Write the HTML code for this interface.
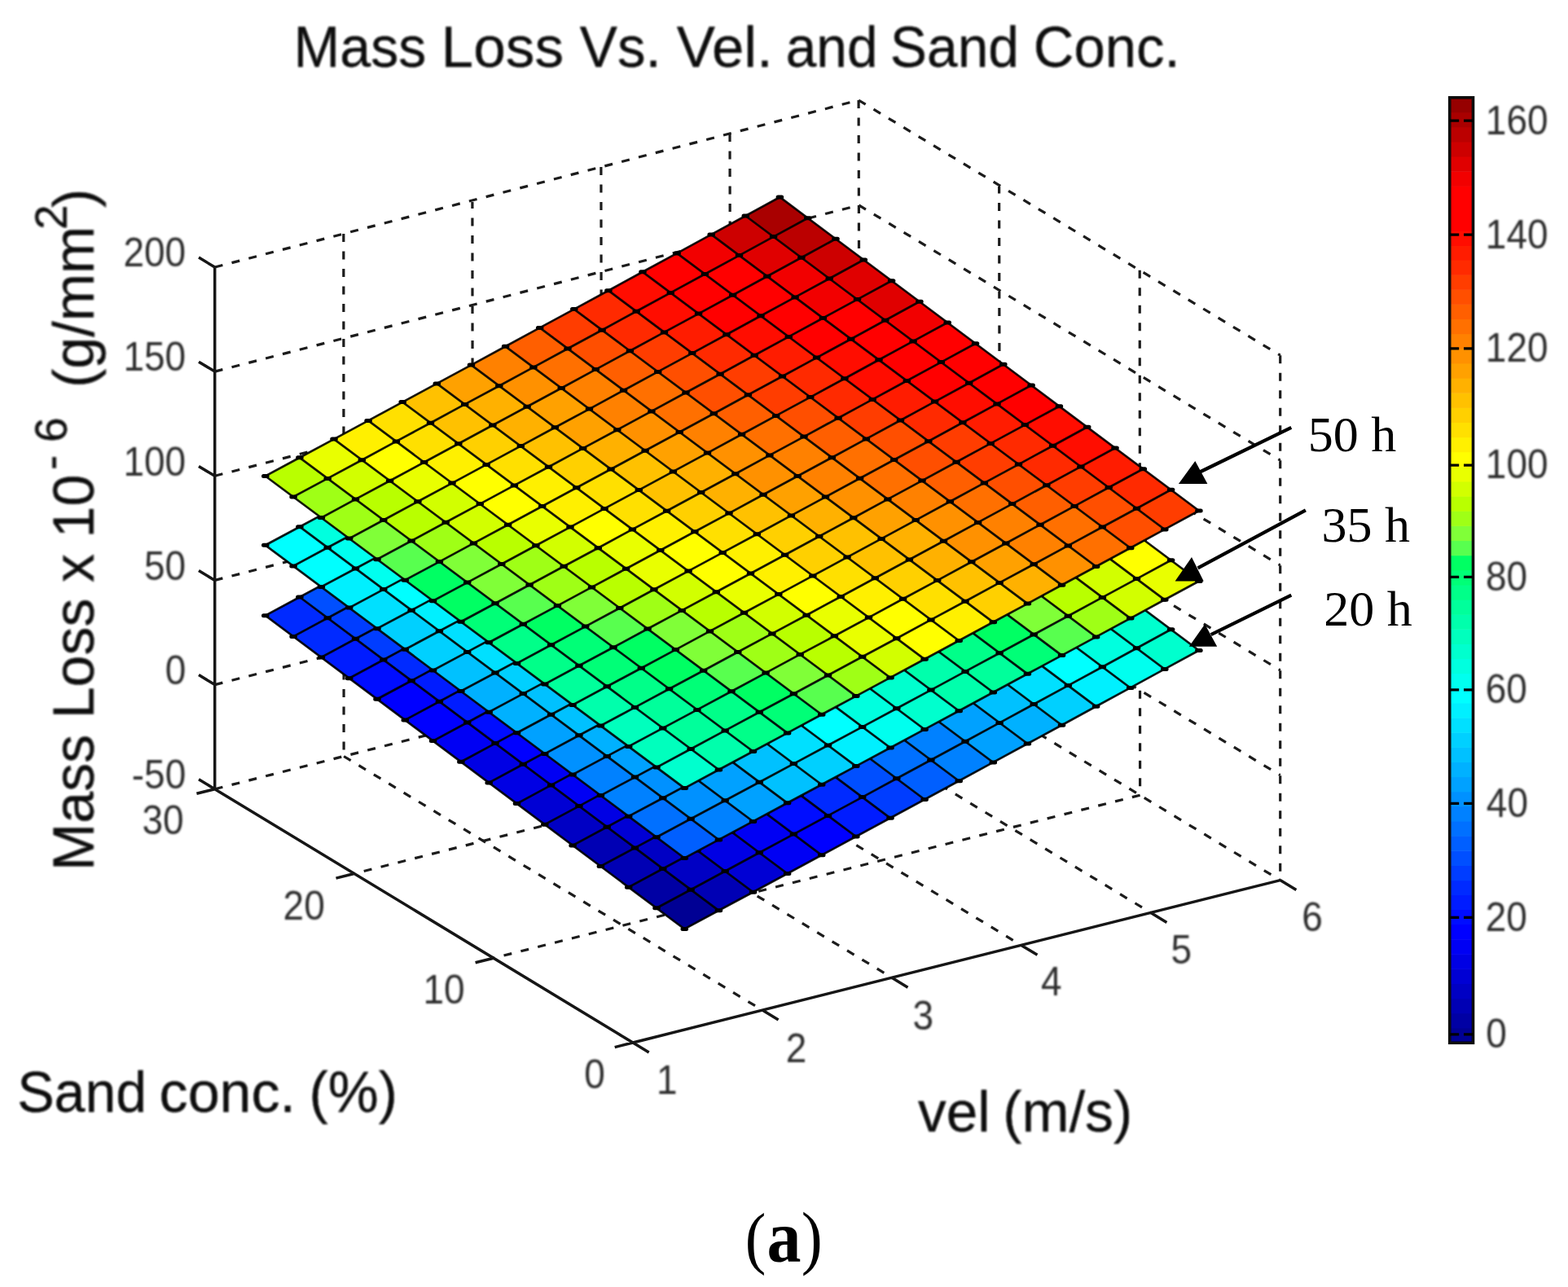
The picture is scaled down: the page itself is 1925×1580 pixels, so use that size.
<!DOCTYPE html>
<html lang="en"><head><meta charset="utf-8"><title>Mass Loss Vs. Vel. and Sand Conc.</title>
<style>html,body{margin:0;padding:0;background:#fff;overflow:hidden}svg{display:block}text{font-family:"Liberation Sans",Arial,Helvetica,sans-serif}.t{font-size:50px;fill:#2e2e2e;stroke:#2e2e2e;stroke-width:0px}.b{font-size:70px;fill:#0c0c0c;stroke:#0c0c0c;stroke-width:0.3px}.u{font-size:55px;fill:#0c0c0c;stroke:#0c0c0c;stroke-width:0.3px}.s{font-family:"Liberation Serif","Times New Roman",serif;fill:#000}</style></head><body>
<svg xmlns="http://www.w3.org/2000/svg" width="1925" height="1580" viewBox="0 0 1925 1580">
<defs><filter id="soft" x="-2%" y="-2%" width="104%" height="104%"><feGaussianBlur stdDeviation="1.0"/></filter><filter id="soft2" x="-2%" y="-2%" width="104%" height="104%"><feGaussianBlur stdDeviation="0.5"/></filter></defs>
<rect width="1925" height="1580" fill="#fff"/>
<g filter="url(#soft2)">
<path fill="none" stroke="#1c1c1c" stroke-width="3.2" stroke-dasharray="10 11.5" d="M263.7,968.7L1055.5,767.5M1055.5,767.5L1571.7,1080.6M263.7,840.6L1055.2,638.6M1055.2,638.6L1571.7,951.7M263.7,712.4L1054.9,509.7M1054.9,509.7L1571.7,822.8M263.7,584.3L1054.7,380.8M1054.7,380.8L1571.7,694M263.7,456.1L1054.4,251.9M1054.4,251.9L1571.7,565.1M263.7,328L1054.1,123M1054.1,123L1571.7,436.2M421.8,287L422.1,928.5M422.1,928.5L935.9,1240.1M579.9,246L580.4,888.2M580.4,888.2L1094.9,1200.2M737.9,205L738.8,848M738.8,848L1253.8,1160.4M896,164L897.1,807.7M897.1,807.7L1412.8,1120.5M1054.1,123L1055.5,767.5M1055.5,767.5L1571.7,1080.6M1399.2,331.8L1399.6,976.2M1399.6,976.2L605.9,1176.2M1226.6,227.4L1227.6,871.9M1227.6,871.9L434.8,1072.5M1571.7,436.2L1571.7,1080.6"/>
<path fill="none" stroke="#161616" stroke-width="3.5" d="M263.7,328L263.7,968.7L777,1280L1571.7,1080.6M263.7,968.7L244,956.8M263.7,840.6L244,828.6M263.7,712.4L244,700.5M263.7,584.3L244,572.4M263.7,456.1L244,444.2M263.7,328L244,316.1M777,1280L754.7,1285.6M605.9,1176.2L583.6,1181.8M434.8,1072.5L412.5,1078.1M263.7,968.7L241.4,974.3M777,1280L796.7,1291.9M935.9,1240.1L955.6,1252M1094.9,1200.2L1114.5,1212.2M1253.8,1160.4L1273.5,1172.3M1412.8,1120.5L1432.4,1132.4M1571.7,1080.6L1591.4,1092.5"/>
<g stroke-linejoin="round">
<path fill="#b9ff00" stroke="#b9ff00" stroke-width=".6" d="M949.6,462.1L991.7,439.2L957.4,413.5L915.3,436.5Z"/>
<path fill="#80ff37" stroke="#80ff37" stroke-width=".6" d="M907.5,485.1L949.6,462.1L915.3,436.5L873.2,459.4ZM1052.5,539.1L1094.6,516.2L1060.3,490.5L1018.2,513.5Z"/>
<path fill="#00ff64" stroke="#00ff64" stroke-width=".6" d="M865.4,508L907.5,485.1L873.2,459.4L831.1,482.3ZM899.7,533.7L941.8,510.7L907.5,485.1L865.4,508ZM1010.4,562.1L1052.5,539.1L1018.2,513.5L976.1,536.4ZM1121.1,590.5L1163.2,567.5L1128.9,541.8L1086.8,564.8ZM1155.4,616.1L1197.5,593.2L1163.2,567.5L1121.1,590.5Z"/>
<path fill="#00ff89" stroke="#00ff89" stroke-width=".6" d="M823.3,530.9L865.4,508L831.1,482.3L789,505.2ZM857.6,556.5L899.7,533.7L865.4,508L823.3,530.9ZM968.3,585L1010.4,562.1L976.1,536.4L934,559.3ZM1079,613.4L1121.1,590.5L1086.8,564.8L1044.7,587.7ZM1113.3,639.1L1155.4,616.1L1121.1,590.5L1079,613.4ZM1224,667.5L1266.1,644.5L1231.8,618.8L1189.7,641.8Z"/>
<path fill="#00ff9b" stroke="#00ff9b" stroke-width=".6" d="M781.2,553.8L823.3,530.9L789,505.2L746.9,528.1ZM891.9,582.2L934,559.3L899.7,533.7L857.6,556.5ZM1002.6,610.6L1044.7,587.7L1010.4,562.1L968.3,585ZM1036.9,636.3L1079,613.4L1044.7,587.7L1002.6,610.6ZM1147.6,664.7L1189.7,641.8L1155.4,616.1L1113.3,639.1ZM1258.3,693.1L1300.4,670.2L1266.1,644.5L1224,667.5ZM1292.6,718.8L1334.7,695.8L1300.4,670.2L1258.3,693.1Z"/>
<path fill="#00ffbd" stroke="#00ffbd" stroke-width=".6" d="M739.1,576.6L781.2,553.8L746.9,528.1L704.8,551ZM849.8,605.1L891.9,582.2L857.6,556.5L815.5,579.4ZM994.8,659.2L1036.9,636.3L1002.6,610.6L960.5,633.5ZM1105.5,687.6L1147.6,664.7L1113.3,639.1L1071.2,662ZM1250.5,741.7L1292.6,718.8L1258.3,693.1L1216.2,716.1ZM1361.2,770.1L1403.3,747.2L1369,721.5L1326.9,744.5Z"/>
<path fill="#00ffdf" stroke="#00ffdf" stroke-width=".6" d="M697,599.5L739.1,576.6L704.8,551L662.7,573.8ZM807.7,627.9L849.8,605.1L815.5,579.4L773.4,602.3ZM842,653.6L884.1,630.7L849.8,605.1L807.7,627.9ZM952.7,682.1L994.8,659.2L960.5,633.5L918.4,656.4ZM1063.4,710.5L1105.5,687.6L1071.2,662L1029.1,684.9ZM1097.7,736.2L1139.8,713.3L1105.5,687.6L1063.4,710.5ZM1208.4,764.6L1250.5,741.7L1216.2,716.1L1174.1,739ZM1319.1,793L1361.2,770.1L1326.9,744.5L1284.8,767.4ZM1353.4,818.7L1395.5,795.8L1361.2,770.1L1319.1,793Z"/>
<path fill="#0ff" stroke="#0ff" stroke-width=".6" d="M654.9,622.3L697,599.5L662.7,573.8L620.6,596.6ZM765.6,650.8L807.7,627.9L773.4,602.3L731.3,625.1ZM799.9,676.4L842,653.6L807.7,627.9L765.6,650.8ZM910.6,704.9L952.7,682.1L918.4,656.4L876.3,679.3ZM1055.6,759.1L1097.7,736.2L1063.4,710.5L1021.3,733.4ZM1166.3,787.5L1208.4,764.6L1174.1,739L1132,761.9ZM1311.3,841.6L1353.4,818.7L1319.1,793L1277,816Z"/>
<path fill="#00e0ff" stroke="#00e0ff" stroke-width=".6" d="M612.8,645.1L654.9,622.3L620.6,596.6L578.5,619.4ZM647.1,670.7L689.2,647.9L654.9,622.3L612.8,645.1ZM757.8,699.2L799.9,676.4L765.6,650.8L723.5,673.6ZM868.5,727.8L910.6,704.9L876.3,679.3L834.2,702.1ZM902.8,753.4L944.9,730.6L910.6,704.9L868.5,727.8ZM1013.5,781.9L1055.6,759.1L1021.3,733.4L979.2,756.2ZM1124.2,810.4L1166.3,787.5L1132,761.9L1089.9,784.7ZM1158.5,836L1200.6,813.2L1166.3,787.5L1124.2,810.4ZM1269.2,864.5L1311.3,841.6L1277,816L1234.9,838.8Z"/>
<path fill="#00c1ff" stroke="#00c1ff" stroke-width=".6" d="M570.6,667.8L612.8,645.1L578.5,619.4L536.3,642.2ZM604.9,693.5L647.1,670.7L612.8,645.1L570.6,667.8ZM715.7,722L757.8,699.2L723.5,673.6L681.4,696.4ZM826.4,750.6L868.5,727.8L834.2,702.1L792.1,724.9ZM860.7,776.2L902.8,753.4L868.5,727.8L826.4,750.6ZM971.4,804.7L1013.5,781.9L979.2,756.2L937.1,779.1ZM1082.1,833.2L1124.2,810.4L1089.9,784.7L1047.8,807.6ZM1116.4,858.9L1158.5,836L1124.2,810.4L1082.1,833.2ZM1227.1,887.4L1269.2,864.5L1234.9,838.8L1192.8,861.7Z"/>
<path fill="#00b1ff" stroke="#00b1ff" stroke-width=".6" d="M528.5,690.6L570.6,667.8L536.3,642.2L494.2,664.9ZM639.2,719.1L681.4,696.4L647.1,670.7L604.9,693.5ZM750,747.7L792.1,724.9L757.8,699.2L715.7,722ZM784.3,773.3L826.4,750.6L792.1,724.9L750,747.7ZM895,801.9L937.1,779.1L902.8,753.4L860.7,776.2ZM1005.7,830.4L1047.8,807.6L1013.5,781.9L971.4,804.7ZM1040,856.1L1082.1,833.2L1047.8,807.6L1005.7,830.4ZM1150.7,884.6L1192.8,861.7L1158.5,836L1116.4,858.9ZM1261.4,913L1303.5,890.2L1269.2,864.5L1227.1,887.4Z"/>
<path fill="#0091ff" stroke="#0091ff" stroke-width=".6" d="M486.4,713.3L528.5,690.6L494.2,664.9L452.1,687.6ZM597.1,741.9L639.2,719.1L604.9,693.5L562.8,716.2ZM742.1,796.1L784.3,773.3L750,747.7L707.8,770.5ZM852.9,824.7L895,801.9L860.7,776.2L818.6,799ZM997.9,878.9L1040,856.1L1005.7,830.4L963.6,853.2ZM1108.6,907.4L1150.7,884.6L1116.4,858.9L1074.3,881.7Z"/>
<path fill="#0070ff" stroke="#0070ff" stroke-width=".6" d="M444.3,736L486.4,713.3L452.1,687.6L410,710.4ZM555,764.6L597.1,741.9L562.8,716.2L520.7,739ZM589.3,790.3L631.4,767.5L597.1,741.9L555,764.6ZM700,818.9L742.1,796.1L707.8,770.5L665.7,793.2ZM810.8,847.4L852.9,824.7L818.6,799L776.4,821.8ZM845,873.1L887.2,850.3L852.9,824.7L810.8,847.4ZM955.8,901.6L997.9,878.9L963.6,853.2L921.5,876ZM1066.5,930.2L1108.6,907.4L1074.3,881.7L1032.2,904.5ZM1100.8,955.8L1142.9,933L1108.6,907.4L1066.5,930.2Z"/>
<path fill="#004fff" stroke="#004fff" stroke-width=".6" d="M402.2,758.7L444.3,736L410,710.4L367.9,733ZM547.2,813L589.3,790.3L555,764.6L512.9,787.3ZM657.9,841.6L700,818.9L665.7,793.2L623.6,815.9ZM802.9,895.8L845,873.1L810.8,847.4L768.6,870.2ZM913.6,924.4L955.8,901.6L921.5,876L879.3,898.7ZM1058.7,978.6L1100.8,955.8L1066.5,930.2L1024.4,953Z"/>
<path fill="#002cff" stroke="#002cff" stroke-width=".6" d="M360.1,781.4L402.2,758.7L367.9,733L325.8,755.7ZM394.4,807L436.5,784.3L402.2,758.7L360.1,781.4ZM505.1,835.7L547.2,813L512.9,787.3L470.8,810ZM615.8,864.3L657.9,841.6L623.6,815.9L581.5,838.6ZM650.1,889.9L692.2,867.2L657.9,841.6L615.8,864.3ZM760.8,918.5L802.9,895.8L768.6,870.2L726.5,892.9ZM871.5,947.1L913.6,924.4L879.3,898.7L837.2,921.5ZM905.8,972.8L947.9,950.1L913.6,924.4L871.5,947.1ZM1016.5,1001.4L1058.7,978.6L1024.4,953L982.2,975.7Z"/>
<path fill="#9fff13" stroke="#9fff13" stroke-width=".6" d="M983.9,487.8L1026,464.8L991.7,439.2L949.6,462.1ZM1018.2,513.5L1060.3,490.5L1026,464.8L983.9,487.8Z"/>
<path fill="#59ff4f" stroke="#59ff4f" stroke-width=".6" d="M941.8,510.7L983.9,487.8L949.6,462.1L907.5,485.1ZM976.1,536.4L1018.2,513.5L983.9,487.8L941.8,510.7ZM1086.8,564.8L1128.9,541.8L1094.6,516.2L1052.5,539.1Z"/>
<path fill="#00ffac" stroke="#00ffac" stroke-width=".6" d="M815.5,579.4L857.6,556.5L823.3,530.9L781.2,553.8ZM926.2,607.9L968.3,585L934,559.3L891.9,582.2ZM960.5,633.5L1002.6,610.6L968.3,585L926.2,607.9ZM1071.2,662L1113.3,639.1L1079,613.4L1036.9,636.3ZM1181.9,690.4L1224,667.5L1189.7,641.8L1147.6,664.7ZM1216.2,716.1L1258.3,693.1L1224,667.5L1181.9,690.4ZM1326.9,744.5L1369,721.5L1334.7,695.8L1292.6,718.8Z"/>
<path fill="#00ffce" stroke="#00ffce" stroke-width=".6" d="M773.4,602.3L815.5,579.4L781.2,553.8L739.1,576.6ZM884.1,630.7L926.2,607.9L891.9,582.2L849.8,605.1ZM918.4,656.4L960.5,633.5L926.2,607.9L884.1,630.7ZM1029.1,684.9L1071.2,662L1036.9,636.3L994.8,659.2ZM1139.8,713.3L1181.9,690.4L1147.6,664.7L1105.5,687.6ZM1174.1,739L1216.2,716.1L1181.9,690.4L1139.8,713.3ZM1284.8,767.4L1326.9,744.5L1292.6,718.8L1250.5,741.7ZM1395.5,795.8L1437.6,772.8L1403.3,747.2L1361.2,770.1ZM1429.8,821.4L1471.9,798.5L1437.6,772.8L1395.5,795.8Z"/>
<path fill="#00ffef" stroke="#00ffef" stroke-width=".6" d="M731.3,625.1L773.4,602.3L739.1,576.6L697,599.5ZM876.3,679.3L918.4,656.4L884.1,630.7L842,653.6ZM987,707.7L1029.1,684.9L994.8,659.2L952.7,682.1ZM1021.3,733.4L1063.4,710.5L1029.1,684.9L987,707.7ZM1132,761.9L1174.1,739L1139.8,713.3L1097.7,736.2ZM1242.7,790.3L1284.8,767.4L1250.5,741.7L1208.4,764.6ZM1277,816L1319.1,793L1284.8,767.4L1242.7,790.3ZM1387.7,844.4L1429.8,821.4L1395.5,795.8L1353.4,818.7Z"/>
<path fill="#00f0ff" stroke="#00f0ff" stroke-width=".6" d="M689.2,647.9L731.3,625.1L697,599.5L654.9,622.3ZM723.5,673.6L765.6,650.8L731.3,625.1L689.2,647.9ZM834.2,702.1L876.3,679.3L842,653.6L799.9,676.4ZM944.9,730.6L987,707.7L952.7,682.1L910.6,704.9ZM979.2,756.2L1021.3,733.4L987,707.7L944.9,730.6ZM1089.9,784.7L1132,761.9L1097.7,736.2L1055.6,759.1ZM1200.6,813.2L1242.7,790.3L1208.4,764.6L1166.3,787.5ZM1234.9,838.8L1277,816L1242.7,790.3L1200.6,813.2ZM1345.6,867.3L1387.7,844.4L1353.4,818.7L1311.3,841.6Z"/>
<path fill="#00a1ff" stroke="#00a1ff" stroke-width=".6" d="M562.8,716.2L604.9,693.5L570.6,667.8L528.5,690.6ZM673.5,744.8L715.7,722L681.4,696.4L639.2,719.1ZM707.8,770.5L750,747.7L715.7,722L673.5,744.8ZM818.6,799L860.7,776.2L826.4,750.6L784.3,773.3ZM929.3,827.5L971.4,804.7L937.1,779.1L895,801.9ZM963.6,853.2L1005.7,830.4L971.4,804.7L929.3,827.5ZM1074.3,881.7L1116.4,858.9L1082.1,833.2L1040,856.1ZM1185,910.2L1227.1,887.4L1192.8,861.7L1150.7,884.6ZM1219.3,935.9L1261.4,913L1227.1,887.4L1185,910.2Z"/>
<path fill="#0081ff" stroke="#0081ff" stroke-width=".6" d="M520.7,739L562.8,716.2L528.5,690.6L486.4,713.3ZM631.4,767.5L673.5,744.8L639.2,719.1L597.1,741.9ZM665.7,793.2L707.8,770.5L673.5,744.8L631.4,767.5ZM776.4,821.8L818.6,799L784.3,773.3L742.1,796.1ZM887.2,850.3L929.3,827.5L895,801.9L852.9,824.7ZM921.5,876L963.6,853.2L929.3,827.5L887.2,850.3ZM1032.2,904.5L1074.3,881.7L1040,856.1L997.9,878.9ZM1142.9,933L1185,910.2L1150.7,884.6L1108.6,907.4ZM1177.2,958.7L1219.3,935.9L1185,910.2L1142.9,933Z"/>
<path fill="#005fff" stroke="#005fff" stroke-width=".6" d="M478.6,761.7L520.7,739L486.4,713.3L444.3,736ZM512.9,787.3L555,764.6L520.7,739L478.6,761.7ZM623.6,815.9L665.7,793.2L631.4,767.5L589.3,790.3ZM734.3,844.5L776.4,821.8L742.1,796.1L700,818.9ZM768.6,870.2L810.8,847.4L776.4,821.8L734.3,844.5ZM879.3,898.7L921.5,876L887.2,850.3L845,873.1ZM990.1,927.3L1032.2,904.5L997.9,878.9L955.8,901.6ZM1024.4,953L1066.5,930.2L1032.2,904.5L990.1,927.3ZM1135.1,981.5L1177.2,958.7L1142.9,933L1100.8,955.8Z"/>
<path fill="#003eff" stroke="#003eff" stroke-width=".6" d="M436.5,784.3L478.6,761.7L444.3,736L402.2,758.7ZM470.8,810L512.9,787.3L478.6,761.7L436.5,784.3ZM581.5,838.6L623.6,815.9L589.3,790.3L547.2,813ZM692.2,867.2L734.3,844.5L700,818.9L657.9,841.6ZM726.5,892.9L768.6,870.2L734.3,844.5L692.2,867.2ZM837.2,921.5L879.3,898.7L845,873.1L802.9,895.8ZM947.9,950.1L990.1,927.3L955.8,901.6L913.6,924.4ZM982.2,975.7L1024.4,953L990.1,927.3L947.9,950.1ZM1093,1004.3L1135.1,981.5L1100.8,955.8L1058.7,978.6Z"/>
<path fill="#0f7" stroke="#0f7" stroke-width=".6" d="M934,559.3L976.1,536.4L941.8,510.7L899.7,533.7ZM1044.7,587.7L1086.8,564.8L1052.5,539.1L1010.4,562.1ZM1189.7,641.8L1231.8,618.8L1197.5,593.2L1155.4,616.1Z"/>
<path fill="#00d0ff" stroke="#00d0ff" stroke-width=".6" d="M681.4,696.4L723.5,673.6L689.2,647.9L647.1,670.7ZM792.1,724.9L834.2,702.1L799.9,676.4L757.8,699.2ZM937.1,779.1L979.2,756.2L944.9,730.6L902.8,753.4ZM1047.8,807.6L1089.9,784.7L1055.6,759.1L1013.5,781.9ZM1192.8,861.7L1234.9,838.8L1200.6,813.2L1158.5,836ZM1303.5,890.2L1345.6,867.3L1311.3,841.6L1269.2,864.5Z"/>
<path fill="#001aff" stroke="#001aff" stroke-width=".6" d="M428.7,832.7L470.8,810L436.5,784.3L394.4,807ZM539.4,861.3L581.5,838.6L547.2,813L505.1,835.7ZM573.7,887L615.8,864.3L581.5,838.6L539.4,861.3ZM684.4,915.6L726.5,892.9L692.2,867.2L650.1,889.9ZM795.1,944.2L837.2,921.5L802.9,895.8L760.8,918.5ZM829.4,969.9L871.5,947.1L837.2,921.5L795.1,944.2ZM940.1,998.5L982.2,975.7L947.9,950.1L905.8,972.8ZM1050.8,1027L1093,1004.3L1058.7,978.6L1016.5,1001.4Z"/>
<path fill="#0007ff" stroke="#0007ff" stroke-width=".6" d="M463,858.3L505.1,835.7L470.8,810L428.7,832.7ZM608,912.6L650.1,889.9L615.8,864.3L573.7,887ZM718.7,941.2L760.8,918.5L726.5,892.9L684.4,915.6ZM863.7,995.5L905.8,972.8L871.5,947.1L829.4,969.9ZM974.4,1024.1L1016.5,1001.4L982.2,975.7L940.1,998.5Z"/>
<path fill="#00f" stroke="#00f" stroke-width=".6" d="M497.3,884L539.4,861.3L505.1,835.7L463,858.3ZM531.6,909.6L573.7,887L539.4,861.3L497.3,884ZM642.3,938.3L684.4,915.6L650.1,889.9L608,912.6ZM753,966.9L795.1,944.2L760.8,918.5L718.7,941.2ZM787.3,992.6L829.4,969.9L795.1,944.2L753,966.9ZM898,1021.2L940.1,998.5L905.8,972.8L863.7,995.5ZM1008.7,1049.8L1050.8,1027L1016.5,1001.4L974.4,1024.1Z"/>
<path fill="#0000f4" stroke="#0000f4" stroke-width=".6" d="M565.9,935.3L608,912.6L573.7,887L531.6,909.6ZM676.6,963.9L718.7,941.2L684.4,915.6L642.3,938.3ZM710.9,989.6L753,966.9L718.7,941.2L676.6,963.9ZM821.6,1018.2L863.7,995.5L829.4,969.9L787.3,992.6ZM932.3,1046.8L974.4,1024.1L940.1,998.5L898,1021.2ZM966.6,1072.5L1008.7,1049.8L974.4,1024.1L932.3,1046.8Z"/>
<path fill="#0000e4" stroke="#0000e4" stroke-width=".6" d="M600.2,960.9L642.3,938.3L608,912.6L565.9,935.3ZM634.5,986.6L676.6,963.9L642.3,938.3L600.2,960.9ZM745.2,1015.2L787.3,992.6L753,966.9L710.9,989.6ZM855.9,1043.9L898,1021.2L863.7,995.5L821.6,1018.2ZM890.2,1069.5L932.3,1046.8L898,1021.2L855.9,1043.9Z"/>
<path fill="#0000d4" stroke="#0000d4" stroke-width=".6" d="M668.8,1012.2L710.9,989.6L676.6,963.9L634.5,986.6ZM779.5,1040.9L821.6,1018.2L787.3,992.6L745.2,1015.2ZM924.5,1095.2L966.6,1072.5L932.3,1046.8L890.2,1069.5Z"/>
<path fill="#0000c4" stroke="#0000c4" stroke-width=".6" d="M703.1,1037.9L745.2,1015.2L710.9,989.6L668.8,1012.2ZM813.8,1066.5L855.9,1043.9L821.6,1018.2L779.5,1040.9ZM848.1,1092.2L890.2,1069.5L855.9,1043.9L813.8,1066.5Z"/>
<path fill="#0000b4" stroke="#0000b4" stroke-width=".6" d="M737.4,1063.5L779.5,1040.9L745.2,1015.2L703.1,1037.9ZM771.7,1089.2L813.8,1066.5L779.5,1040.9L737.4,1063.5ZM882.4,1117.8L924.5,1095.2L890.2,1069.5L848.1,1092.2Z"/>
<path fill="#0000a4" stroke="#0000a4" stroke-width=".6" d="M806,1114.8L848.1,1092.2L813.8,1066.5L771.7,1089.2Z"/>
<path fill="#000094" stroke="#000094" stroke-width=".6" d="M840.3,1140.5L882.4,1117.8L848.1,1092.2L806,1114.8Z"/>
<path fill="none" stroke="#000" stroke-opacity="0.9" stroke-width="2.7" stroke-linecap="square" d="M840.3,1140.5L882.4,1117.8L924.5,1095.2L966.6,1072.5L1008.7,1049.8L1050.8,1027L1093,1004.3L1135.1,981.5L1177.2,958.7L1219.3,935.9L1261.4,913L1303.5,890.2L1345.6,867.3L1387.7,844.4L1429.8,821.4L1471.9,798.5M806,1114.8L848.1,1092.2L890.2,1069.5L932.3,1046.8L974.4,1024.1L1016.5,1001.4L1058.7,978.6L1100.8,955.8L1142.9,933L1185,910.2L1227.1,887.4L1269.2,864.5L1311.3,841.6L1353.4,818.7L1395.5,795.8L1437.6,772.8M771.7,1089.2L813.8,1066.5L855.9,1043.9L898,1021.2L940.1,998.5L982.2,975.7L1024.4,953L1066.5,930.2L1108.6,907.4L1150.7,884.6L1192.8,861.7L1234.9,838.8L1277,816L1319.1,793L1361.2,770.1L1403.3,747.2M737.4,1063.5L779.5,1040.9L821.6,1018.2L863.7,995.5L905.8,972.8L947.9,950.1L990.1,927.3L1032.2,904.5L1074.3,881.7L1116.4,858.9L1158.5,836L1200.6,813.2L1242.7,790.3L1284.8,767.4L1326.9,744.5L1369,721.5M703.1,1037.9L745.2,1015.2L787.3,992.6L829.4,969.9L871.5,947.1L913.6,924.4L955.8,901.6L997.9,878.9L1040,856.1L1082.1,833.2L1124.2,810.4L1166.3,787.5L1208.4,764.6L1250.5,741.7L1292.6,718.8L1334.7,695.8M668.8,1012.2L710.9,989.6L753,966.9L795.1,944.2L837.2,921.5L879.3,898.7L921.5,876L963.6,853.2L1005.7,830.4L1047.8,807.6L1089.9,784.7L1132,761.9L1174.1,739L1216.2,716.1L1258.3,693.1L1300.4,670.2M634.5,986.6L676.6,963.9L718.7,941.2L760.8,918.5L802.9,895.8L845,873.1L887.2,850.3L929.3,827.5L971.4,804.7L1013.5,781.9L1055.6,759.1L1097.7,736.2L1139.8,713.3L1181.9,690.4L1224,667.5L1266.1,644.5M600.2,960.9L642.3,938.3L684.4,915.6L726.5,892.9L768.6,870.2L810.8,847.4L852.9,824.7L895,801.9L937.1,779.1L979.2,756.2L1021.3,733.4L1063.4,710.5L1105.5,687.6L1147.6,664.7L1189.7,641.8L1231.8,618.8M565.9,935.3L608,912.6L650.1,889.9L692.2,867.2L734.3,844.5L776.4,821.8L818.6,799L860.7,776.2L902.8,753.4L944.9,730.6L987,707.7L1029.1,684.9L1071.2,662L1113.3,639.1L1155.4,616.1L1197.5,593.2M531.6,909.6L573.7,887L615.8,864.3L657.9,841.6L700,818.9L742.1,796.1L784.3,773.3L826.4,750.6L868.5,727.8L910.6,704.9L952.7,682.1L994.8,659.2L1036.9,636.3L1079,613.4L1121.1,590.5L1163.2,567.5M497.3,884L539.4,861.3L581.5,838.6L623.6,815.9L665.7,793.2L707.8,770.5L750,747.7L792.1,724.9L834.2,702.1L876.3,679.3L918.4,656.4L960.5,633.5L1002.6,610.6L1044.7,587.7L1086.8,564.8L1128.9,541.8M463,858.3L505.1,835.7L547.2,813L589.3,790.3L631.4,767.5L673.5,744.8L715.7,722L757.8,699.2L799.9,676.4L842,653.6L884.1,630.7L926.2,607.9L968.3,585L1010.4,562.1L1052.5,539.1L1094.6,516.2M428.7,832.7L470.8,810L512.9,787.3L555,764.6L597.1,741.9L639.2,719.1L681.4,696.4L723.5,673.6L765.6,650.8L807.7,627.9L849.8,605.1L891.9,582.2L934,559.3L976.1,536.4L1018.2,513.5L1060.3,490.5M394.4,807L436.5,784.3L478.6,761.7L520.7,739L562.8,716.2L604.9,693.5L647.1,670.7L689.2,647.9L731.3,625.1L773.4,602.3L815.5,579.4L857.6,556.5L899.7,533.7L941.8,510.7L983.9,487.8L1026,464.8M360.1,781.4L402.2,758.7L444.3,736L486.4,713.3L528.5,690.6L570.6,667.8L612.8,645.1L654.9,622.3L697,599.5L739.1,576.6L781.2,553.8L823.3,530.9L865.4,508L907.5,485.1L949.6,462.1L991.7,439.2M325.8,755.7L367.9,733L410,710.4L452.1,687.6L494.2,664.9L536.3,642.2L578.5,619.4L620.6,596.6L662.7,573.8L704.8,551L746.9,528.1L789,505.2L831.1,482.3L873.2,459.4L915.3,436.5L957.4,413.5M840.3,1140.5L325.8,755.7M882.4,1117.8L367.9,733M924.5,1095.2L410,710.4M966.6,1072.5L452.1,687.6M1008.7,1049.8L494.2,664.9M1050.8,1027L536.3,642.2M1093,1004.3L578.5,619.4M1135.1,981.5L620.6,596.6M1177.2,958.7L662.7,573.8M1219.3,935.9L704.8,551M1261.4,913L746.9,528.1M1303.5,890.2L789,505.2M1345.6,867.3L831.1,482.3M1387.7,844.4L873.2,459.4M1429.8,821.4L915.3,436.5M1471.9,798.5L957.4,413.5"/>
<path fill="none" stroke="#000" stroke-width="5" stroke-linecap="round" d="M838,1140.5h4.6M880.1,1117.8h4.6M922.2,1095.2h4.6M964.3,1072.5h4.6M1006.4,1049.8h4.6M1048.5,1027h4.6M1090.7,1004.3h4.6M1132.8,981.5h4.6M1174.9,958.7h4.6M1217,935.9h4.6M1259.1,913h4.6M1301.2,890.2h4.6M1343.3,867.3h4.6M1385.4,844.4h4.6M1427.5,821.4h4.6M1469.6,798.5h4.6M803.7,1114.8h4.6M845.8,1092.2h4.6M887.9,1069.5h4.6M930,1046.8h4.6M972.1,1024.1h4.6M1014.2,1001.4h4.6M1056.4,978.6h4.6M1098.5,955.8h4.6M1140.6,933h4.6M1182.7,910.2h4.6M1224.8,887.4h4.6M1266.9,864.5h4.6M1309,841.6h4.6M1351.1,818.7h4.6M1393.2,795.8h4.6M1435.3,772.8h4.6M769.4,1089.2h4.6M811.5,1066.5h4.6M853.6,1043.9h4.6M895.7,1021.2h4.6M937.8,998.5h4.6M979.9,975.7h4.6M1022.1,953h4.6M1064.2,930.2h4.6M1106.3,907.4h4.6M1148.4,884.6h4.6M1190.5,861.7h4.6M1232.6,838.8h4.6M1274.7,816h4.6M1316.8,793h4.6M1358.9,770.1h4.6M1401,747.2h4.6M735.1,1063.5h4.6M777.2,1040.9h4.6M819.3,1018.2h4.6M861.4,995.5h4.6M903.5,972.8h4.6M945.6,950.1h4.6M987.8,927.3h4.6M1029.9,904.5h4.6M1072,881.7h4.6M1114.1,858.9h4.6M1156.2,836h4.6M1198.3,813.2h4.6M1240.4,790.3h4.6M1282.5,767.4h4.6M1324.6,744.5h4.6M1366.7,721.5h4.6M700.8,1037.9h4.6M742.9,1015.2h4.6M785,992.6h4.6M827.1,969.9h4.6M869.2,947.1h4.6M911.3,924.4h4.6M953.5,901.6h4.6M995.6,878.9h4.6M1037.7,856.1h4.6M1079.8,833.2h4.6M1121.9,810.4h4.6M1164,787.5h4.6M1206.1,764.6h4.6M1248.2,741.7h4.6M1290.3,718.8h4.6M1332.4,695.8h4.6M666.5,1012.2h4.6M708.6,989.6h4.6M750.7,966.9h4.6M792.8,944.2h4.6M834.9,921.5h4.6M877,898.7h4.6M919.2,876h4.6M961.3,853.2h4.6M1003.4,830.4h4.6M1045.5,807.6h4.6M1087.6,784.7h4.6M1129.7,761.9h4.6M1171.8,739h4.6M1213.9,716.1h4.6M1256,693.1h4.6M1298.1,670.2h4.6M632.2,986.6h4.6M674.3,963.9h4.6M716.4,941.2h4.6M758.5,918.5h4.6M800.6,895.8h4.6M842.8,873.1h4.6M884.9,850.3h4.6M927,827.5h4.6M969.1,804.7h4.6M1011.2,781.9h4.6M1053.3,759.1h4.6M1095.4,736.2h4.6M1137.5,713.3h4.6M1179.6,690.4h4.6M1221.7,667.5h4.6M1263.8,644.5h4.6M597.9,960.9h4.6M640,938.3h4.6M682.1,915.6h4.6M724.2,892.9h4.6M766.3,870.2h4.6M808.5,847.4h4.6M850.6,824.7h4.6M892.7,801.9h4.6M934.8,779.1h4.6M976.9,756.2h4.6M1019,733.4h4.6M1061.1,710.5h4.6M1103.2,687.6h4.6M1145.3,664.7h4.6M1187.4,641.8h4.6M1229.5,618.8h4.6M563.6,935.3h4.6M605.7,912.6h4.6M647.8,889.9h4.6M689.9,867.2h4.6M732,844.5h4.6M774.1,821.8h4.6M816.3,799h4.6M858.4,776.2h4.6M900.5,753.4h4.6M942.6,730.6h4.6M984.7,707.7h4.6M1026.8,684.9h4.6M1068.9,662h4.6M1111,639.1h4.6M1153.1,616.1h4.6M1195.2,593.2h4.6M529.3,909.6h4.6M571.4,887h4.6M613.5,864.3h4.6M655.6,841.6h4.6M697.7,818.9h4.6M739.8,796.1h4.6M782,773.3h4.6M824.1,750.6h4.6M866.2,727.8h4.6M908.3,704.9h4.6M950.4,682.1h4.6M992.5,659.2h4.6M1034.6,636.3h4.6M1076.7,613.4h4.6M1118.8,590.5h4.6M1160.9,567.5h4.6M495,884h4.6M537.1,861.3h4.6M579.2,838.6h4.6M621.3,815.9h4.6M663.4,793.2h4.6M705.5,770.5h4.6M747.7,747.7h4.6M789.8,724.9h4.6M831.9,702.1h4.6M874,679.3h4.6M916.1,656.4h4.6M958.2,633.5h4.6M1000.3,610.6h4.6M1042.4,587.7h4.6M1084.5,564.8h4.6M1126.6,541.8h4.6M460.7,858.3h4.6M502.8,835.7h4.6M544.9,813h4.6M587,790.3h4.6M629.1,767.5h4.6M671.2,744.8h4.6M713.4,722h4.6M755.5,699.2h4.6M797.6,676.4h4.6M839.7,653.6h4.6M881.8,630.7h4.6M923.9,607.9h4.6M966,585h4.6M1008.1,562.1h4.6M1050.2,539.1h4.6M1092.3,516.2h4.6M426.4,832.7h4.6M468.5,810h4.6M510.6,787.3h4.6M552.7,764.6h4.6M594.8,741.9h4.6M637,719.1h4.6M679.1,696.4h4.6M721.2,673.6h4.6M763.3,650.8h4.6M805.4,627.9h4.6M847.5,605.1h4.6M889.6,582.2h4.6M931.7,559.3h4.6M973.8,536.4h4.6M1015.9,513.5h4.6M1058,490.5h4.6M392.1,807h4.6M434.2,784.3h4.6M476.3,761.7h4.6M518.4,739h4.6M560.5,716.2h4.6M602.6,693.5h4.6M644.8,670.7h4.6M686.9,647.9h4.6M729,625.1h4.6M771.1,602.3h4.6M813.2,579.4h4.6M855.3,556.5h4.6M897.4,533.7h4.6M939.5,510.7h4.6M981.6,487.8h4.6M1023.7,464.8h4.6M357.8,781.4h4.6M399.9,758.7h4.6M442,736h4.6M484.1,713.3h4.6M526.2,690.6h4.6M568.4,667.8h4.6M610.5,645.1h4.6M652.6,622.3h4.6M694.7,599.5h4.6M736.8,576.6h4.6M778.9,553.8h4.6M821,530.9h4.6M863.1,508h4.6M905.2,485.1h4.6M947.3,462.1h4.6M989.4,439.2h4.6M323.5,755.7h4.6M365.6,733h4.6M407.7,710.4h4.6M449.8,687.6h4.6M491.9,664.9h4.6M534,642.2h4.6M576.2,619.4h4.6M618.3,596.6h4.6M660.4,573.8h4.6M702.5,551h4.6M744.6,528.1h4.6M786.7,505.2h4.6M828.8,482.3h4.6M870.9,459.4h4.6M913,436.5h4.6M955.1,413.5h4.6"/>
<path fill="#ff5f00" stroke="#ff5f00" stroke-width=".6" d="M949.6,377L991.7,354.2L957.4,328.5L915.3,351.4Z"/>
<path fill="#ff8100" stroke="#ff8100" stroke-width=".6" d="M907.5,399.9L949.6,377L915.3,351.4L873.2,374.2ZM1018.2,428.4L1060.3,405.5L1026,379.8L983.9,402.7ZM1052.5,454L1094.6,431.2L1060.3,405.5L1018.2,428.4Z"/>
<path fill="#ffa100" stroke="#ffa100" stroke-width=".6" d="M865.4,422.7L907.5,399.9L873.2,374.2L831.1,397ZM976.1,451.2L1018.2,428.4L983.9,402.7L941.8,425.5ZM1010.4,476.9L1052.5,454L1018.2,428.4L976.1,451.2ZM1121.1,505.3L1163.2,482.5L1128.9,456.8L1086.8,479.7Z"/>
<path fill="#ffc100" stroke="#ffc100" stroke-width=".6" d="M823.3,445.5L865.4,422.7L831.1,397L789,419.8ZM857.6,471.2L899.7,448.4L865.4,422.7L823.3,445.5ZM968.3,499.7L1010.4,476.9L976.1,451.2L934,474ZM1079,528.2L1121.1,505.3L1086.8,479.7L1044.7,502.5ZM1113.3,553.8L1155.4,531L1121.1,505.3L1079,528.2ZM1224,582.3L1266.1,559.5L1231.8,533.8L1189.7,556.7Z"/>
<path fill="#ffe000" stroke="#ffe000" stroke-width=".6" d="M781.2,468.3L823.3,445.5L789,419.8L746.9,442.6ZM815.5,493.9L857.6,471.2L823.3,445.5L781.2,468.3ZM926.2,522.5L968.3,499.7L934,474L891.9,496.8ZM1036.9,551L1079,528.2L1044.7,502.5L1002.6,525.3ZM1071.2,576.6L1113.3,553.8L1079,528.2L1036.9,551ZM1181.9,605.1L1224,582.3L1189.7,556.7L1147.6,579.5ZM1292.6,633.7L1334.7,610.8L1300.4,585.2L1258.3,608ZM1326.9,659.3L1369,636.5L1334.7,610.8L1292.6,633.7Z"/>
<path fill="#fff000" stroke="#fff000" stroke-width=".6" d="M739.1,491L781.2,468.3L746.9,442.6L704.8,465.4ZM849.8,519.6L891.9,496.8L857.6,471.2L815.5,493.9ZM960.5,548.1L1002.6,525.3L968.3,499.7L926.2,522.5ZM994.8,573.8L1036.9,551L1002.6,525.3L960.5,548.1ZM1105.5,602.3L1147.6,579.5L1113.3,553.8L1071.2,576.6ZM1216.2,630.8L1258.3,608L1224,582.3L1181.9,605.1ZM1250.5,656.5L1292.6,633.7L1258.3,608L1216.2,630.8ZM1361.2,685L1403.3,662.2L1369,636.5L1326.9,659.3Z"/>
<path fill="#e9ff00" stroke="#e9ff00" stroke-width=".6" d="M697,513.8L739.1,491L704.8,465.4L662.7,488.1ZM807.7,542.3L849.8,519.6L815.5,493.9L773.4,516.7ZM918.4,570.9L960.5,548.1L926.2,522.5L884.1,545.2ZM952.7,596.5L994.8,573.8L960.5,548.1L918.4,570.9ZM1063.4,625.1L1105.5,602.3L1071.2,576.6L1029.1,599.4ZM1174.1,653.6L1216.2,630.8L1181.9,605.1L1139.8,627.9ZM1208.4,679.2L1250.5,656.5L1216.2,630.8L1174.1,653.6ZM1319.1,707.8L1361.2,685L1326.9,659.3L1284.8,682.1ZM1429.8,736.3L1471.9,713.5L1437.6,687.8L1395.5,710.6Z"/>
<path fill="#b9ff00" stroke="#b9ff00" stroke-width=".6" d="M654.9,536.5L697,513.8L662.7,488.1L620.6,510.9ZM765.6,565.1L807.7,542.3L773.4,516.7L731.3,539.4ZM799.9,590.7L842,568L807.7,542.3L765.6,565.1ZM910.6,619.3L952.7,596.5L918.4,570.9L876.3,593.6ZM1021.3,647.8L1063.4,625.1L1029.1,599.4L987,622.2ZM1055.6,673.5L1097.7,650.7L1063.4,625.1L1021.3,647.8ZM1166.3,702L1208.4,679.2L1174.1,653.6L1132,676.4ZM1277,730.6L1319.1,707.8L1284.8,682.1L1242.7,704.9ZM1311.3,756.2L1353.4,733.4L1319.1,707.8L1277,730.6Z"/>
<path fill="#80ff37" stroke="#80ff37" stroke-width=".6" d="M612.8,559.2L654.9,536.5L620.6,510.9L578.5,533.6ZM723.5,587.8L765.6,565.1L731.3,539.4L689.2,562.1ZM757.8,613.4L799.9,590.7L765.6,565.1L723.5,587.8ZM868.5,642L910.6,619.3L876.3,593.6L834.2,616.3ZM979.2,670.5L1021.3,647.8L987,622.2L944.9,644.9ZM1013.5,696.2L1055.6,673.5L1021.3,647.8L979.2,670.5ZM1124.2,724.7L1166.3,702L1132,676.4L1089.9,699.1ZM1234.9,753.3L1277,730.6L1242.7,704.9L1200.6,727.7ZM1269.2,779L1311.3,756.2L1277,730.6L1234.9,753.3Z"/>
<path fill="#00ff64" stroke="#00ff64" stroke-width=".6" d="M570.6,581.9L612.8,559.2L578.5,533.6L536.3,556.2ZM604.9,607.5L647.1,584.8L612.8,559.2L570.6,581.9ZM715.7,636.1L757.8,613.4L723.5,587.8L681.4,610.4ZM826.4,664.7L868.5,642L834.2,616.3L792.1,639ZM860.7,690.3L902.8,667.6L868.5,642L826.4,664.7ZM971.4,718.9L1013.5,696.2L979.2,670.5L937.1,693.2ZM1082.1,747.5L1124.2,724.7L1089.9,699.1L1047.8,721.8ZM1116.4,773.1L1158.5,750.4L1124.2,724.7L1082.1,747.5ZM1227.1,801.7L1269.2,779L1234.9,753.3L1192.8,776Z"/>
<path fill="#0f7" stroke="#0f7" stroke-width=".6" d="M528.5,604.5L570.6,581.9L536.3,556.2L494.2,578.9ZM639.2,633.1L681.4,610.4L647.1,584.8L604.9,607.5ZM750,661.7L792.1,639L757.8,613.4L715.7,636.1ZM895,715.9L937.1,693.2L902.8,667.6L860.7,690.3ZM1005.7,744.5L1047.8,721.8L1013.5,696.2L971.4,718.9ZM1150.7,798.8L1192.8,776L1158.5,750.4L1116.4,773.1ZM1261.4,827.3L1303.5,804.6L1269.2,779L1227.1,801.7Z"/>
<path fill="#00ff9b" stroke="#00ff9b" stroke-width=".6" d="M486.4,627.1L528.5,604.5L494.2,578.9L452.1,601.5ZM597.1,655.8L639.2,633.1L604.9,607.5L562.8,630.1ZM707.8,684.4L750,661.7L715.7,636.1L673.5,658.7ZM742.1,710L784.3,687.3L750,661.7L707.8,684.4ZM852.9,738.6L895,715.9L860.7,690.3L818.6,713ZM963.6,767.2L1005.7,744.5L971.4,718.9L929.3,741.6ZM997.9,792.8L1040,770.2L1005.7,744.5L963.6,767.2ZM1108.6,821.4L1150.7,798.8L1116.4,773.1L1074.3,795.8ZM1219.3,850L1261.4,827.3L1227.1,801.7L1185,824.4Z"/>
<path fill="#00ffbd" stroke="#00ffbd" stroke-width=".6" d="M444.3,649.8L486.4,627.1L452.1,601.5L410,624.1ZM555,678.4L597.1,655.8L562.8,630.1L520.7,652.8ZM589.3,704L631.4,681.4L597.1,655.8L555,678.4ZM700,732.6L742.1,710L707.8,684.4L665.7,707ZM810.8,761.2L852.9,738.6L818.6,713L776.4,735.6ZM845,786.9L887.2,764.2L852.9,738.6L810.8,761.2ZM955.8,815.5L997.9,792.8L963.6,767.2L921.5,789.9ZM1066.5,844.1L1108.6,821.4L1074.3,795.8L1032.2,818.5Z"/>
<path fill="#00ffdf" stroke="#00ffdf" stroke-width=".6" d="M402.2,672.3L444.3,649.8L410,624.1L367.9,646.7ZM512.9,701L555,678.4L520.7,652.8L478.6,675.4ZM547.2,726.6L589.3,704L555,678.4L512.9,701ZM657.9,755.2L700,732.6L665.7,707L623.6,729.6ZM768.6,783.9L810.8,761.2L776.4,735.6L734.3,758.2ZM802.9,809.5L845,786.9L810.8,761.2L768.6,783.9ZM913.6,838.1L955.8,815.5L921.5,789.9L879.3,812.5ZM1024.4,866.8L1066.5,844.1L1032.2,818.5L990.1,841.1ZM1058.7,892.4L1100.8,869.7L1066.5,844.1L1024.4,866.8Z"/>
<path fill="#0ff" stroke="#0ff" stroke-width=".6" d="M360.1,694.9L402.2,672.3L367.9,646.7L325.8,669.3ZM394.4,720.5L436.5,698L402.2,672.3L360.1,694.9ZM505.1,749.2L547.2,726.6L512.9,701L470.8,723.6ZM615.8,777.8L657.9,755.2L623.6,729.6L581.5,752.2ZM650.1,803.4L692.2,780.9L657.9,755.2L615.8,777.8ZM760.8,832.1L802.9,809.5L768.6,783.9L726.5,806.5ZM871.5,860.7L913.6,838.1L879.3,812.5L837.2,835.1ZM905.8,886.4L947.9,863.8L913.6,838.1L871.5,860.7ZM1016.5,915L1058.7,892.4L1024.4,866.8L982.2,889.4Z"/>
<path fill="#ff7000" stroke="#ff7000" stroke-width=".6" d="M983.9,402.7L1026,379.8L991.7,354.2L949.6,377Z"/>
<path fill="#ff9100" stroke="#ff9100" stroke-width=".6" d="M941.8,425.5L983.9,402.7L949.6,377L907.5,399.9ZM1086.8,479.7L1128.9,456.8L1094.6,431.2L1052.5,454Z"/>
<path fill="#ffb100" stroke="#ffb100" stroke-width=".6" d="M899.7,448.4L941.8,425.5L907.5,399.9L865.4,422.7ZM934,474L976.1,451.2L941.8,425.5L899.7,448.4ZM1044.7,502.5L1086.8,479.7L1052.5,454L1010.4,476.9ZM1155.4,531L1197.5,508.2L1163.2,482.5L1121.1,505.3ZM1189.7,556.7L1231.8,533.8L1197.5,508.2L1155.4,531Z"/>
<path fill="#ff0" stroke="#ff0" stroke-width=".6" d="M773.4,516.7L815.5,493.9L781.2,468.3L739.1,491ZM884.1,545.2L926.2,522.5L891.9,496.8L849.8,519.6ZM1029.1,599.4L1071.2,576.6L1036.9,551L994.8,573.8ZM1139.8,627.9L1181.9,605.1L1147.6,579.5L1105.5,602.3ZM1284.8,682.1L1326.9,659.3L1292.6,633.7L1250.5,656.5ZM1395.5,710.6L1437.6,687.8L1403.3,662.2L1361.2,685Z"/>
<path fill="#d2ff00" stroke="#d2ff00" stroke-width=".6" d="M731.3,539.4L773.4,516.7L739.1,491L697,513.8ZM842,568L884.1,545.2L849.8,519.6L807.7,542.3ZM876.3,593.6L918.4,570.9L884.1,545.2L842,568ZM987,622.2L1029.1,599.4L994.8,573.8L952.7,596.5ZM1097.7,650.7L1139.8,627.9L1105.5,602.3L1063.4,625.1ZM1132,676.4L1174.1,653.6L1139.8,627.9L1097.7,650.7ZM1242.7,704.9L1284.8,682.1L1250.5,656.5L1208.4,679.2ZM1353.4,733.4L1395.5,710.6L1361.2,685L1319.1,707.8ZM1387.7,759.1L1429.8,736.3L1395.5,710.6L1353.4,733.4Z"/>
<path fill="#9fff13" stroke="#9fff13" stroke-width=".6" d="M689.2,562.1L731.3,539.4L697,513.8L654.9,536.5ZM834.2,616.3L876.3,593.6L842,568L799.9,590.7ZM944.9,644.9L987,622.2L952.7,596.5L910.6,619.3ZM1089.9,699.1L1132,676.4L1097.7,650.7L1055.6,673.5ZM1200.6,727.7L1242.7,704.9L1208.4,679.2L1166.3,702ZM1345.6,781.9L1387.7,759.1L1353.4,733.4L1311.3,756.2Z"/>
<path fill="#59ff4f" stroke="#59ff4f" stroke-width=".6" d="M647.1,584.8L689.2,562.1L654.9,536.5L612.8,559.2ZM681.4,610.4L723.5,587.8L689.2,562.1L647.1,584.8ZM792.1,639L834.2,616.3L799.9,590.7L757.8,613.4ZM902.8,667.6L944.9,644.9L910.6,619.3L868.5,642ZM937.1,693.2L979.2,670.5L944.9,644.9L902.8,667.6ZM1047.8,721.8L1089.9,699.1L1055.6,673.5L1013.5,696.2ZM1158.5,750.4L1200.6,727.7L1166.3,702L1124.2,724.7ZM1192.8,776L1234.9,753.3L1200.6,727.7L1158.5,750.4ZM1303.5,804.6L1345.6,781.9L1311.3,756.2L1269.2,779Z"/>
<path fill="#00ff89" stroke="#00ff89" stroke-width=".6" d="M562.8,630.1L604.9,607.5L570.6,581.9L528.5,604.5ZM673.5,658.7L715.7,636.1L681.4,610.4L639.2,633.1ZM784.3,687.3L826.4,664.7L792.1,639L750,661.7ZM818.6,713L860.7,690.3L826.4,664.7L784.3,687.3ZM929.3,741.6L971.4,718.9L937.1,693.2L895,715.9ZM1040,770.2L1082.1,747.5L1047.8,721.8L1005.7,744.5ZM1074.3,795.8L1116.4,773.1L1082.1,747.5L1040,770.2ZM1185,824.4L1227.1,801.7L1192.8,776L1150.7,798.8Z"/>
<path fill="#00ffac" stroke="#00ffac" stroke-width=".6" d="M520.7,652.8L562.8,630.1L528.5,604.5L486.4,627.1ZM631.4,681.4L673.5,658.7L639.2,633.1L597.1,655.8ZM665.7,707L707.8,684.4L673.5,658.7L631.4,681.4ZM776.4,735.6L818.6,713L784.3,687.3L742.1,710ZM887.2,764.2L929.3,741.6L895,715.9L852.9,738.6ZM921.5,789.9L963.6,767.2L929.3,741.6L887.2,764.2ZM1032.2,818.5L1074.3,795.8L1040,770.2L997.9,792.8ZM1142.9,847.1L1185,824.4L1150.7,798.8L1108.6,821.4ZM1177.2,872.7L1219.3,850L1185,824.4L1142.9,847.1Z"/>
<path fill="#00ffce" stroke="#00ffce" stroke-width=".6" d="M478.6,675.4L520.7,652.8L486.4,627.1L444.3,649.8ZM623.6,729.6L665.7,707L631.4,681.4L589.3,704ZM734.3,758.2L776.4,735.6L742.1,710L700,732.6ZM879.3,812.5L921.5,789.9L887.2,764.2L845,786.9ZM990.1,841.1L1032.2,818.5L997.9,792.8L955.8,815.5ZM1100.8,869.7L1142.9,847.1L1108.6,821.4L1066.5,844.1ZM1135.1,895.4L1177.2,872.7L1142.9,847.1L1100.8,869.7Z"/>
<path fill="#00ffef" stroke="#00ffef" stroke-width=".6" d="M436.5,698L478.6,675.4L444.3,649.8L402.2,672.3ZM470.8,723.6L512.9,701L478.6,675.4L436.5,698ZM581.5,752.2L623.6,729.6L589.3,704L547.2,726.6ZM692.2,780.9L734.3,758.2L700,732.6L657.9,755.2ZM726.5,806.5L768.6,783.9L734.3,758.2L692.2,780.9ZM837.2,835.1L879.3,812.5L845,786.9L802.9,809.5ZM947.9,863.8L990.1,841.1L955.8,815.5L913.6,838.1ZM982.2,889.4L1024.4,866.8L990.1,841.1L947.9,863.8ZM1093,918L1135.1,895.4L1100.8,869.7L1058.7,892.4Z"/>
<path fill="#ffd000" stroke="#ffd000" stroke-width=".6" d="M891.9,496.8L934,474L899.7,448.4L857.6,471.2ZM1002.6,525.3L1044.7,502.5L1010.4,476.9L968.3,499.7ZM1147.6,579.5L1189.7,556.7L1155.4,531L1113.3,553.8ZM1258.3,608L1300.4,585.2L1266.1,559.5L1224,582.3Z"/>
<path fill="#00f0ff" stroke="#00f0ff" stroke-width=".6" d="M428.7,746.1L470.8,723.6L436.5,698L394.4,720.5ZM539.4,774.8L581.5,752.2L547.2,726.6L505.1,749.2ZM684.4,829.1L726.5,806.5L692.2,780.9L650.1,803.4ZM795.1,857.7L837.2,835.1L802.9,809.5L760.8,832.1ZM940.1,912L982.2,889.4L947.9,863.8L905.8,886.4ZM1050.8,940.6L1093,918L1058.7,892.4L1016.5,915Z"/>
<path fill="#00e0ff" stroke="#00e0ff" stroke-width=".6" d="M463,771.7L505.1,749.2L470.8,723.6L428.7,746.1ZM573.7,800.4L615.8,777.8L581.5,752.2L539.4,774.8ZM608,826L650.1,803.4L615.8,777.8L573.7,800.4ZM718.7,854.7L760.8,832.1L726.5,806.5L684.4,829.1ZM829.4,883.3L871.5,860.7L837.2,835.1L795.1,857.7ZM863.7,908.9L905.8,886.4L871.5,860.7L829.4,883.3ZM974.4,937.6L1016.5,915L982.2,889.4L940.1,912Z"/>
<path fill="#00d0ff" stroke="#00d0ff" stroke-width=".6" d="M497.3,797.3L539.4,774.8L505.1,749.2L463,771.7ZM531.6,822.9L573.7,800.4L539.4,774.8L497.3,797.3ZM642.3,851.6L684.4,829.1L650.1,803.4L608,826ZM753,880.3L795.1,857.7L760.8,832.1L718.7,854.7ZM787.3,905.9L829.4,883.3L795.1,857.7L753,880.3ZM898,934.6L940.1,912L905.8,886.4L863.7,908.9ZM1008.7,963.2L1050.8,940.6L1016.5,915L974.4,937.6Z"/>
<path fill="#00c1ff" stroke="#00c1ff" stroke-width=".6" d="M565.9,848.5L608,826L573.7,800.4L531.6,822.9ZM676.6,877.2L718.7,854.7L684.4,829.1L642.3,851.6ZM710.9,902.8L753,880.3L718.7,854.7L676.6,877.2ZM821.6,931.5L863.7,908.9L829.4,883.3L787.3,905.9ZM932.3,960.2L974.4,937.6L940.1,912L898,934.6ZM966.6,985.8L1008.7,963.2L974.4,937.6L932.3,960.2Z"/>
<path fill="#00b1ff" stroke="#00b1ff" stroke-width=".6" d="M600.2,874.2L642.3,851.6L608,826L565.9,848.5ZM634.5,899.8L676.6,877.2L642.3,851.6L600.2,874.2ZM745.2,928.4L787.3,905.9L753,880.3L710.9,902.8ZM855.9,957.1L898,934.6L863.7,908.9L821.6,931.5Z"/>
<path fill="#00a1ff" stroke="#00a1ff" stroke-width=".6" d="M668.8,925.4L710.9,902.8L676.6,877.2L634.5,899.8ZM779.5,954.1L821.6,931.5L787.3,905.9L745.2,928.4ZM890.2,982.7L932.3,960.2L898,934.6L855.9,957.1ZM924.5,1008.4L966.6,985.8L932.3,960.2L890.2,982.7Z"/>
<path fill="#0091ff" stroke="#0091ff" stroke-width=".6" d="M703.1,951L745.2,928.4L710.9,902.8L668.8,925.4ZM813.8,979.7L855.9,957.1L821.6,931.5L779.5,954.1ZM848.1,1005.3L890.2,982.7L855.9,957.1L813.8,979.7Z"/>
<path fill="#0081ff" stroke="#0081ff" stroke-width=".6" d="M737.4,976.6L779.5,954.1L745.2,928.4L703.1,951ZM771.7,1002.2L813.8,979.7L779.5,954.1L737.4,976.6ZM882.4,1030.9L924.5,1008.4L890.2,982.7L848.1,1005.3Z"/>
<path fill="#0070ff" stroke="#0070ff" stroke-width=".6" d="M806,1027.8L848.1,1005.3L813.8,979.7L771.7,1002.2Z"/>
<path fill="#005fff" stroke="#005fff" stroke-width=".6" d="M840.3,1053.4L882.4,1030.9L848.1,1005.3L806,1027.8Z"/>
<path fill="none" stroke="#000" stroke-opacity="0.9" stroke-width="2.7" stroke-linecap="square" d="M840.3,1053.4L882.4,1030.9L924.5,1008.4L966.6,985.8L1008.7,963.2L1050.8,940.6L1093,918L1135.1,895.4L1177.2,872.7L1219.3,850L1261.4,827.3L1303.5,804.6L1345.6,781.9L1387.7,759.1L1429.8,736.3L1471.9,713.5M806,1027.8L848.1,1005.3L890.2,982.7L932.3,960.2L974.4,937.6L1016.5,915L1058.7,892.4L1100.8,869.7L1142.9,847.1L1185,824.4L1227.1,801.7L1269.2,779L1311.3,756.2L1353.4,733.4L1395.5,710.6L1437.6,687.8M771.7,1002.2L813.8,979.7L855.9,957.1L898,934.6L940.1,912L982.2,889.4L1024.4,866.8L1066.5,844.1L1108.6,821.4L1150.7,798.8L1192.8,776L1234.9,753.3L1277,730.6L1319.1,707.8L1361.2,685L1403.3,662.2M737.4,976.6L779.5,954.1L821.6,931.5L863.7,908.9L905.8,886.4L947.9,863.8L990.1,841.1L1032.2,818.5L1074.3,795.8L1116.4,773.1L1158.5,750.4L1200.6,727.7L1242.7,704.9L1284.8,682.1L1326.9,659.3L1369,636.5M703.1,951L745.2,928.4L787.3,905.9L829.4,883.3L871.5,860.7L913.6,838.1L955.8,815.5L997.9,792.8L1040,770.2L1082.1,747.5L1124.2,724.7L1166.3,702L1208.4,679.2L1250.5,656.5L1292.6,633.7L1334.7,610.8M668.8,925.4L710.9,902.8L753,880.3L795.1,857.7L837.2,835.1L879.3,812.5L921.5,789.9L963.6,767.2L1005.7,744.5L1047.8,721.8L1089.9,699.1L1132,676.4L1174.1,653.6L1216.2,630.8L1258.3,608L1300.4,585.2M634.5,899.8L676.6,877.2L718.7,854.7L760.8,832.1L802.9,809.5L845,786.9L887.2,764.2L929.3,741.6L971.4,718.9L1013.5,696.2L1055.6,673.5L1097.7,650.7L1139.8,627.9L1181.9,605.1L1224,582.3L1266.1,559.5M600.2,874.2L642.3,851.6L684.4,829.1L726.5,806.5L768.6,783.9L810.8,761.2L852.9,738.6L895,715.9L937.1,693.2L979.2,670.5L1021.3,647.8L1063.4,625.1L1105.5,602.3L1147.6,579.5L1189.7,556.7L1231.8,533.8M565.9,848.5L608,826L650.1,803.4L692.2,780.9L734.3,758.2L776.4,735.6L818.6,713L860.7,690.3L902.8,667.6L944.9,644.9L987,622.2L1029.1,599.4L1071.2,576.6L1113.3,553.8L1155.4,531L1197.5,508.2M531.6,822.9L573.7,800.4L615.8,777.8L657.9,755.2L700,732.6L742.1,710L784.3,687.3L826.4,664.7L868.5,642L910.6,619.3L952.7,596.5L994.8,573.8L1036.9,551L1079,528.2L1121.1,505.3L1163.2,482.5M497.3,797.3L539.4,774.8L581.5,752.2L623.6,729.6L665.7,707L707.8,684.4L750,661.7L792.1,639L834.2,616.3L876.3,593.6L918.4,570.9L960.5,548.1L1002.6,525.3L1044.7,502.5L1086.8,479.7L1128.9,456.8M463,771.7L505.1,749.2L547.2,726.6L589.3,704L631.4,681.4L673.5,658.7L715.7,636.1L757.8,613.4L799.9,590.7L842,568L884.1,545.2L926.2,522.5L968.3,499.7L1010.4,476.9L1052.5,454L1094.6,431.2M428.7,746.1L470.8,723.6L512.9,701L555,678.4L597.1,655.8L639.2,633.1L681.4,610.4L723.5,587.8L765.6,565.1L807.7,542.3L849.8,519.6L891.9,496.8L934,474L976.1,451.2L1018.2,428.4L1060.3,405.5M394.4,720.5L436.5,698L478.6,675.4L520.7,652.8L562.8,630.1L604.9,607.5L647.1,584.8L689.2,562.1L731.3,539.4L773.4,516.7L815.5,493.9L857.6,471.2L899.7,448.4L941.8,425.5L983.9,402.7L1026,379.8M360.1,694.9L402.2,672.3L444.3,649.8L486.4,627.1L528.5,604.5L570.6,581.9L612.8,559.2L654.9,536.5L697,513.8L739.1,491L781.2,468.3L823.3,445.5L865.4,422.7L907.5,399.9L949.6,377L991.7,354.2M325.8,669.3L367.9,646.7L410,624.1L452.1,601.5L494.2,578.9L536.3,556.2L578.5,533.6L620.6,510.9L662.7,488.1L704.8,465.4L746.9,442.6L789,419.8L831.1,397L873.2,374.2L915.3,351.4L957.4,328.5M840.3,1053.4L325.8,669.3M882.4,1030.9L367.9,646.7M924.5,1008.4L410,624.1M966.6,985.8L452.1,601.5M1008.7,963.2L494.2,578.9M1050.8,940.6L536.3,556.2M1093,918L578.5,533.6M1135.1,895.4L620.6,510.9M1177.2,872.7L662.7,488.1M1219.3,850L704.8,465.4M1261.4,827.3L746.9,442.6M1303.5,804.6L789,419.8M1345.6,781.9L831.1,397M1387.7,759.1L873.2,374.2M1429.8,736.3L915.3,351.4M1471.9,713.5L957.4,328.5"/>
<path fill="none" stroke="#000" stroke-width="5" stroke-linecap="round" d="M838,1053.4h4.6M880.1,1030.9h4.6M922.2,1008.4h4.6M964.3,985.8h4.6M1006.4,963.2h4.6M1048.5,940.6h4.6M1090.7,918h4.6M1132.8,895.4h4.6M1174.9,872.7h4.6M1217,850h4.6M1259.1,827.3h4.6M1301.2,804.6h4.6M1343.3,781.9h4.6M1385.4,759.1h4.6M1427.5,736.3h4.6M1469.6,713.5h4.6M803.7,1027.8h4.6M845.8,1005.3h4.6M887.9,982.7h4.6M930,960.2h4.6M972.1,937.6h4.6M1014.2,915h4.6M1056.4,892.4h4.6M1098.5,869.7h4.6M1140.6,847.1h4.6M1182.7,824.4h4.6M1224.8,801.7h4.6M1266.9,779h4.6M1309,756.2h4.6M1351.1,733.4h4.6M1393.2,710.6h4.6M1435.3,687.8h4.6M769.4,1002.2h4.6M811.5,979.7h4.6M853.6,957.1h4.6M895.7,934.6h4.6M937.8,912h4.6M979.9,889.4h4.6M1022.1,866.8h4.6M1064.2,844.1h4.6M1106.3,821.4h4.6M1148.4,798.8h4.6M1190.5,776h4.6M1232.6,753.3h4.6M1274.7,730.6h4.6M1316.8,707.8h4.6M1358.9,685h4.6M1401,662.2h4.6M735.1,976.6h4.6M777.2,954.1h4.6M819.3,931.5h4.6M861.4,908.9h4.6M903.5,886.4h4.6M945.6,863.8h4.6M987.8,841.1h4.6M1029.9,818.5h4.6M1072,795.8h4.6M1114.1,773.1h4.6M1156.2,750.4h4.6M1198.3,727.7h4.6M1240.4,704.9h4.6M1282.5,682.1h4.6M1324.6,659.3h4.6M1366.7,636.5h4.6M700.8,951h4.6M742.9,928.4h4.6M785,905.9h4.6M827.1,883.3h4.6M869.2,860.7h4.6M911.3,838.1h4.6M953.5,815.5h4.6M995.6,792.8h4.6M1037.7,770.2h4.6M1079.8,747.5h4.6M1121.9,724.7h4.6M1164,702h4.6M1206.1,679.2h4.6M1248.2,656.5h4.6M1290.3,633.7h4.6M1332.4,610.8h4.6M666.5,925.4h4.6M708.6,902.8h4.6M750.7,880.3h4.6M792.8,857.7h4.6M834.9,835.1h4.6M877,812.5h4.6M919.2,789.9h4.6M961.3,767.2h4.6M1003.4,744.5h4.6M1045.5,721.8h4.6M1087.6,699.1h4.6M1129.7,676.4h4.6M1171.8,653.6h4.6M1213.9,630.8h4.6M1256,608h4.6M1298.1,585.2h4.6M632.2,899.8h4.6M674.3,877.2h4.6M716.4,854.7h4.6M758.5,832.1h4.6M800.6,809.5h4.6M842.8,786.9h4.6M884.9,764.2h4.6M927,741.6h4.6M969.1,718.9h4.6M1011.2,696.2h4.6M1053.3,673.5h4.6M1095.4,650.7h4.6M1137.5,627.9h4.6M1179.6,605.1h4.6M1221.7,582.3h4.6M1263.8,559.5h4.6M597.9,874.2h4.6M640,851.6h4.6M682.1,829.1h4.6M724.2,806.5h4.6M766.3,783.9h4.6M808.5,761.2h4.6M850.6,738.6h4.6M892.7,715.9h4.6M934.8,693.2h4.6M976.9,670.5h4.6M1019,647.8h4.6M1061.1,625.1h4.6M1103.2,602.3h4.6M1145.3,579.5h4.6M1187.4,556.7h4.6M1229.5,533.8h4.6M563.6,848.5h4.6M605.7,826h4.6M647.8,803.4h4.6M689.9,780.9h4.6M732,758.2h4.6M774.1,735.6h4.6M816.3,713h4.6M858.4,690.3h4.6M900.5,667.6h4.6M942.6,644.9h4.6M984.7,622.2h4.6M1026.8,599.4h4.6M1068.9,576.6h4.6M1111,553.8h4.6M1153.1,531h4.6M1195.2,508.2h4.6M529.3,822.9h4.6M571.4,800.4h4.6M613.5,777.8h4.6M655.6,755.2h4.6M697.7,732.6h4.6M739.8,710h4.6M782,687.3h4.6M824.1,664.7h4.6M866.2,642h4.6M908.3,619.3h4.6M950.4,596.5h4.6M992.5,573.8h4.6M1034.6,551h4.6M1076.7,528.2h4.6M1118.8,505.3h4.6M1160.9,482.5h4.6M495,797.3h4.6M537.1,774.8h4.6M579.2,752.2h4.6M621.3,729.6h4.6M663.4,707h4.6M705.5,684.4h4.6M747.7,661.7h4.6M789.8,639h4.6M831.9,616.3h4.6M874,593.6h4.6M916.1,570.9h4.6M958.2,548.1h4.6M1000.3,525.3h4.6M1042.4,502.5h4.6M1084.5,479.7h4.6M1126.6,456.8h4.6M460.7,771.7h4.6M502.8,749.2h4.6M544.9,726.6h4.6M587,704h4.6M629.1,681.4h4.6M671.2,658.7h4.6M713.4,636.1h4.6M755.5,613.4h4.6M797.6,590.7h4.6M839.7,568h4.6M881.8,545.2h4.6M923.9,522.5h4.6M966,499.7h4.6M1008.1,476.9h4.6M1050.2,454h4.6M1092.3,431.2h4.6M426.4,746.1h4.6M468.5,723.6h4.6M510.6,701h4.6M552.7,678.4h4.6M594.8,655.8h4.6M637,633.1h4.6M679.1,610.4h4.6M721.2,587.8h4.6M763.3,565.1h4.6M805.4,542.3h4.6M847.5,519.6h4.6M889.6,496.8h4.6M931.7,474h4.6M973.8,451.2h4.6M1015.9,428.4h4.6M1058,405.5h4.6M392.1,720.5h4.6M434.2,698h4.6M476.3,675.4h4.6M518.4,652.8h4.6M560.5,630.1h4.6M602.6,607.5h4.6M644.8,584.8h4.6M686.9,562.1h4.6M729,539.4h4.6M771.1,516.7h4.6M813.2,493.9h4.6M855.3,471.2h4.6M897.4,448.4h4.6M939.5,425.5h4.6M981.6,402.7h4.6M1023.7,379.8h4.6M357.8,694.9h4.6M399.9,672.3h4.6M442,649.8h4.6M484.1,627.1h4.6M526.2,604.5h4.6M568.4,581.9h4.6M610.5,559.2h4.6M652.6,536.5h4.6M694.7,513.8h4.6M736.8,491h4.6M778.9,468.3h4.6M821,445.5h4.6M863.1,422.7h4.6M905.2,399.9h4.6M947.3,377h4.6M989.4,354.2h4.6M323.5,669.3h4.6M365.6,646.7h4.6M407.7,624.1h4.6M449.8,601.5h4.6M491.9,578.9h4.6M534,556.2h4.6M576.2,533.6h4.6M618.3,510.9h4.6M660.4,488.1h4.6M702.5,465.4h4.6M744.6,442.6h4.6M786.7,419.8h4.6M828.8,397h4.6M870.9,374.2h4.6M913,351.4h4.6M955.1,328.5h4.6"/>
<path fill="#a90000" stroke="#a90000" stroke-width=".6" d="M949.6,290.6L991.7,267.7L957.4,242L915.3,265Z"/>
<path fill="#cd0000" stroke="#cd0000" stroke-width=".6" d="M907.5,313.6L949.6,290.6L915.3,265L873.2,287.9ZM1018.2,342L1060.3,319L1026,293.3L983.9,316.3Z"/>
<path fill="#f20000" stroke="#f20000" stroke-width=".6" d="M865.4,336.5L907.5,313.6L873.2,287.9L831.1,310.9ZM976.1,364.9L1018.2,342L983.9,316.3L941.8,339.2ZM1010.4,390.5L1052.5,367.6L1018.2,342L976.1,364.9ZM1121.1,418.9L1163.2,396L1128.9,370.3L1086.8,393.3Z"/>
<path fill="#f00" stroke="#f00" stroke-width=".6" d="M823.3,359.4L865.4,336.5L831.1,310.9L789,333.8ZM899.7,362.2L941.8,339.2L907.5,313.6L865.4,336.5ZM857.6,385.1L899.7,362.2L865.4,336.5L823.3,359.4ZM934,387.8L976.1,364.9L941.8,339.2L899.7,362.2ZM891.9,410.7L934,387.8L899.7,362.2L857.6,385.1ZM968.3,413.4L1010.4,390.5L976.1,364.9L934,387.8ZM1044.7,416.2L1086.8,393.3L1052.5,367.6L1010.4,390.5ZM1002.6,439.1L1044.7,416.2L1010.4,390.5L968.3,413.4ZM1079,441.8L1121.1,418.9L1086.8,393.3L1044.7,416.2ZM1155.4,444.6L1197.5,421.7L1163.2,396L1121.1,418.9ZM1113.3,467.5L1155.4,444.6L1121.1,418.9L1079,441.8ZM1189.7,470.2L1231.8,447.3L1197.5,421.7L1155.4,444.6ZM1147.6,493.1L1189.7,470.2L1155.4,444.6L1113.3,467.5ZM1224,495.9L1266.1,473L1231.8,447.3L1189.7,470.2ZM1258.3,521.6L1300.4,498.7L1266.1,473L1224,495.9Z"/>
<path fill="#ff0700" stroke="#ff0700" stroke-width=".6" d="M781.2,382.3L823.3,359.4L789,333.8L746.9,356.7ZM815.5,407.9L857.6,385.1L823.3,359.4L781.2,382.3ZM926.2,436.3L968.3,413.4L934,387.8L891.9,410.7ZM1036.9,464.7L1079,441.8L1044.7,416.2L1002.6,439.1ZM1071.2,490.4L1113.3,467.5L1079,441.8L1036.9,464.7ZM1181.9,518.8L1224,495.9L1189.7,470.2L1147.6,493.1ZM1292.6,547.2L1334.7,524.3L1300.4,498.7L1258.3,521.6ZM1326.9,572.9L1369,550L1334.7,524.3L1292.6,547.2Z"/>
<path fill="#ff2c00" stroke="#ff2c00" stroke-width=".6" d="M739.1,405.2L781.2,382.3L746.9,356.7L704.8,379.6ZM773.4,430.8L815.5,407.9L781.2,382.3L739.1,405.2ZM884.1,459.2L926.2,436.3L891.9,410.7L849.8,433.6ZM994.8,487.6L1036.9,464.7L1002.6,439.1L960.5,462ZM1029.1,513.2L1071.2,490.4L1036.9,464.7L994.8,487.6ZM1139.8,541.7L1181.9,518.8L1147.6,493.1L1105.5,516ZM1250.5,570.1L1292.6,547.2L1258.3,521.6L1216.2,544.4ZM1284.8,595.7L1326.9,572.9L1292.6,547.2L1250.5,570.1ZM1395.5,624.2L1437.6,601.3L1403.3,575.7L1361.2,598.5Z"/>
<path fill="#ff3e00" stroke="#ff3e00" stroke-width=".6" d="M697,428L739.1,405.2L704.8,379.6L662.7,402.4ZM807.7,456.4L849.8,433.6L815.5,407.9L773.4,430.8ZM918.4,484.8L960.5,462L926.2,436.3L884.1,459.2ZM952.7,510.4L994.8,487.6L960.5,462L918.4,484.8ZM1063.4,538.9L1105.5,516L1071.2,490.4L1029.1,513.2ZM1174.1,567.3L1216.2,544.4L1181.9,518.8L1139.8,541.7ZM1208.4,592.9L1250.5,570.1L1216.2,544.4L1174.1,567.3ZM1319.1,621.4L1361.2,598.5L1326.9,572.9L1284.8,595.7ZM1429.8,649.9L1471.9,627L1437.6,601.3L1395.5,624.2Z"/>
<path fill="#ff5f00" stroke="#ff5f00" stroke-width=".6" d="M654.9,450.9L697,428L662.7,402.4L620.6,425.3ZM765.6,479.3L807.7,456.4L773.4,430.8L731.3,453.6ZM910.6,533.3L952.7,510.4L918.4,484.8L876.3,507.7ZM1021.3,561.7L1063.4,538.9L1029.1,513.2L987,536.1ZM1166.3,615.8L1208.4,592.9L1174.1,567.3L1132,590.1ZM1277,644.2L1319.1,621.4L1284.8,595.7L1242.7,618.6Z"/>
<path fill="#ff8100" stroke="#ff8100" stroke-width=".6" d="M612.8,473.7L654.9,450.9L620.6,425.3L578.5,448.1ZM723.5,502.1L765.6,479.3L731.3,453.6L689.2,476.5ZM757.8,527.7L799.9,504.9L765.6,479.3L723.5,502.1ZM868.5,556.1L910.6,533.3L876.3,507.7L834.2,530.5ZM979.2,584.5L1021.3,561.7L987,536.1L944.9,558.9ZM1013.5,610.1L1055.6,587.3L1021.3,561.7L979.2,584.5ZM1124.2,638.6L1166.3,615.8L1132,590.1L1089.9,612.9ZM1234.9,667L1277,644.2L1242.7,618.6L1200.6,641.4ZM1269.2,692.7L1311.3,669.9L1277,644.2L1234.9,667Z"/>
<path fill="#ffa100" stroke="#ffa100" stroke-width=".6" d="M570.6,496.4L612.8,473.7L578.5,448.1L536.3,470.9ZM681.4,524.8L723.5,502.1L689.2,476.5L647.1,499.3ZM715.7,550.4L757.8,527.7L723.5,502.1L681.4,524.8ZM826.4,578.9L868.5,556.1L834.2,530.5L792.1,553.3ZM971.4,632.9L1013.5,610.1L979.2,584.5L937.1,607.3ZM1082.1,661.4L1124.2,638.6L1089.9,612.9L1047.8,635.7ZM1227.1,715.4L1269.2,692.7L1234.9,667L1192.8,689.8Z"/>
<path fill="#ffc100" stroke="#ffc100" stroke-width=".6" d="M528.5,519.2L570.6,496.4L536.3,470.9L494.2,493.6ZM562.8,544.8L604.9,522L570.6,496.4L528.5,519.2ZM673.5,573.2L715.7,550.4L681.4,524.8L639.2,547.6ZM784.3,601.6L826.4,578.9L792.1,553.3L750,576ZM818.6,627.2L860.7,604.5L826.4,578.9L784.3,601.6ZM929.3,655.7L971.4,632.9L937.1,607.3L895,630.1ZM1040,684.1L1082.1,661.4L1047.8,635.7L1005.7,658.5ZM1074.3,709.7L1116.4,687L1082.1,661.4L1040,684.1ZM1185,738.2L1227.1,715.4L1192.8,689.8L1150.7,712.6Z"/>
<path fill="#ffe000" stroke="#ffe000" stroke-width=".6" d="M486.4,541.9L528.5,519.2L494.2,493.6L452.1,516.4ZM520.7,567.5L562.8,544.8L528.5,519.2L486.4,541.9ZM631.4,595.9L673.5,573.2L639.2,547.6L597.1,570.4ZM742.1,624.4L784.3,601.6L750,576L707.8,598.8ZM776.4,649.9L818.6,627.2L784.3,601.6L742.1,624.4ZM887.2,678.4L929.3,655.7L895,630.1L852.9,652.8ZM1032.2,732.5L1074.3,709.7L1040,684.1L997.9,706.9ZM1142.9,760.9L1185,738.2L1150.7,712.6L1108.6,735.3Z"/>
<path fill="#fff000" stroke="#fff000" stroke-width=".6" d="M444.3,564.7L486.4,541.9L452.1,516.4L410,539.1ZM555,593.1L597.1,570.4L562.8,544.8L520.7,567.5ZM665.7,621.5L707.8,598.8L673.5,573.2L631.4,595.9ZM700,647.1L742.1,624.4L707.8,598.8L665.7,621.5ZM810.8,675.5L852.9,652.8L818.6,627.2L776.4,649.9ZM921.5,704L963.6,681.3L929.3,655.7L887.2,678.4ZM955.8,729.6L997.9,706.9L963.6,681.3L921.5,704ZM1066.5,758.1L1108.6,735.3L1074.3,709.7L1032.2,732.5ZM1177.2,786.5L1219.3,763.8L1185,738.2L1142.9,760.9Z"/>
<path fill="#e9ff00" stroke="#e9ff00" stroke-width=".6" d="M402.2,587.4L444.3,564.7L410,539.1L367.9,561.8ZM512.9,615.8L555,593.1L520.7,567.5L478.6,590.2ZM657.9,669.8L700,647.1L665.7,621.5L623.6,644.2ZM768.6,698.2L810.8,675.5L776.4,649.9L734.3,672.7ZM802.9,723.8L845,701.1L810.8,675.5L768.6,698.2ZM913.6,752.3L955.8,729.6L921.5,704L879.3,726.7ZM1024.4,780.8L1066.5,758.1L1032.2,732.5L990.1,755.2ZM1058.7,806.3L1100.8,783.7L1066.5,758.1L1024.4,780.8Z"/>
<path fill="#b9ff00" stroke="#b9ff00" stroke-width=".6" d="M360.1,610L402.2,587.4L367.9,561.8L325.8,584.5ZM470.8,638.5L512.9,615.8L478.6,590.2L436.5,612.9ZM505.1,664L547.2,641.3L512.9,615.8L470.8,638.5ZM615.8,692.5L657.9,669.8L623.6,644.2L581.5,666.9ZM726.5,720.9L768.6,698.2L734.3,672.7L692.2,695.3ZM760.8,746.5L802.9,723.8L768.6,698.2L726.5,720.9ZM871.5,774.9L913.6,752.3L879.3,726.7L837.2,749.4ZM982.2,803.4L1024.4,780.8L990.1,755.2L947.9,777.9ZM1016.5,829L1058.7,806.3L1024.4,780.8L982.2,803.4Z"/>
<path fill="#b00" stroke="#b00" stroke-width=".6" d="M983.9,316.3L1026,293.3L991.7,267.7L949.6,290.6Z"/>
<path fill="#e00000" stroke="#e00000" stroke-width=".6" d="M941.8,339.2L983.9,316.3L949.6,290.6L907.5,313.6ZM1052.5,367.6L1094.6,344.7L1060.3,319L1018.2,342ZM1086.8,393.3L1128.9,370.3L1094.6,344.7L1052.5,367.6Z"/>
<path fill="#ff4f00" stroke="#ff4f00" stroke-width=".6" d="M731.3,453.6L773.4,430.8L739.1,405.2L697,428ZM842,482L884.1,459.2L849.8,433.6L807.7,456.4ZM876.3,507.7L918.4,484.8L884.1,459.2L842,482ZM987,536.1L1029.1,513.2L994.8,487.6L952.7,510.4ZM1097.7,564.5L1139.8,541.7L1105.5,516L1063.4,538.9ZM1132,590.1L1174.1,567.3L1139.8,541.7L1097.7,564.5ZM1242.7,618.6L1284.8,595.7L1250.5,570.1L1208.4,592.9ZM1353.4,647L1395.5,624.2L1361.2,598.5L1319.1,621.4ZM1387.7,672.7L1429.8,649.9L1395.5,624.2L1353.4,647Z"/>
<path fill="#ff7000" stroke="#ff7000" stroke-width=".6" d="M689.2,476.5L731.3,453.6L697,428L654.9,450.9ZM799.9,504.9L842,482L807.7,456.4L765.6,479.3ZM834.2,530.5L876.3,507.7L842,482L799.9,504.9ZM944.9,558.9L987,536.1L952.7,510.4L910.6,533.3ZM1055.6,587.3L1097.7,564.5L1063.4,538.9L1021.3,561.7ZM1089.9,612.9L1132,590.1L1097.7,564.5L1055.6,587.3ZM1200.6,641.4L1242.7,618.6L1208.4,592.9L1166.3,615.8ZM1311.3,669.9L1353.4,647L1319.1,621.4L1277,644.2ZM1345.6,695.5L1387.7,672.7L1353.4,647L1311.3,669.9Z"/>
<path fill="#ff9100" stroke="#ff9100" stroke-width=".6" d="M647.1,499.3L689.2,476.5L654.9,450.9L612.8,473.7ZM792.1,553.3L834.2,530.5L799.9,504.9L757.8,527.7ZM902.8,581.7L944.9,558.9L910.6,533.3L868.5,556.1ZM937.1,607.3L979.2,584.5L944.9,558.9L902.8,581.7ZM1047.8,635.7L1089.9,612.9L1055.6,587.3L1013.5,610.1ZM1158.5,664.2L1200.6,641.4L1166.3,615.8L1124.2,638.6ZM1192.8,689.8L1234.9,667L1200.6,641.4L1158.5,664.2ZM1303.5,718.3L1345.6,695.5L1311.3,669.9L1269.2,692.7Z"/>
<path fill="#ffb100" stroke="#ffb100" stroke-width=".6" d="M604.9,522L647.1,499.3L612.8,473.7L570.6,496.4ZM639.2,547.6L681.4,524.8L647.1,499.3L604.9,522ZM750,576L792.1,553.3L757.8,527.7L715.7,550.4ZM860.7,604.5L902.8,581.7L868.5,556.1L826.4,578.9ZM895,630.1L937.1,607.3L902.8,581.7L860.7,604.5ZM1005.7,658.5L1047.8,635.7L1013.5,610.1L971.4,632.9ZM1116.4,687L1158.5,664.2L1124.2,638.6L1082.1,661.4ZM1150.7,712.6L1192.8,689.8L1158.5,664.2L1116.4,687ZM1261.4,741.1L1303.5,718.3L1269.2,692.7L1227.1,715.4Z"/>
<path fill="#ff0" stroke="#ff0" stroke-width=".6" d="M478.6,590.2L520.7,567.5L486.4,541.9L444.3,564.7ZM589.3,618.6L631.4,595.9L597.1,570.4L555,593.1ZM623.6,644.2L665.7,621.5L631.4,595.9L589.3,618.6ZM734.3,672.7L776.4,649.9L742.1,624.4L700,647.1ZM845,701.1L887.2,678.4L852.9,652.8L810.8,675.5ZM879.3,726.7L921.5,704L887.2,678.4L845,701.1ZM990.1,755.2L1032.2,732.5L997.9,706.9L955.8,729.6ZM1100.8,783.7L1142.9,760.9L1108.6,735.3L1066.5,758.1ZM1135.1,809.3L1177.2,786.5L1142.9,760.9L1100.8,783.7Z"/>
<path fill="#d2ff00" stroke="#d2ff00" stroke-width=".6" d="M436.5,612.9L478.6,590.2L444.3,564.7L402.2,587.4ZM547.2,641.3L589.3,618.6L555,593.1L512.9,615.8ZM581.5,666.9L623.6,644.2L589.3,618.6L547.2,641.3ZM692.2,695.3L734.3,672.7L700,647.1L657.9,669.8ZM837.2,749.4L879.3,726.7L845,701.1L802.9,723.8ZM947.9,777.9L990.1,755.2L955.8,729.6L913.6,752.3ZM1093,831.9L1135.1,809.3L1100.8,783.7L1058.7,806.3Z"/>
<path fill="#9fff13" stroke="#9fff13" stroke-width=".6" d="M394.4,635.6L436.5,612.9L402.2,587.4L360.1,610ZM428.7,661.1L470.8,638.5L436.5,612.9L394.4,635.6ZM539.4,689.6L581.5,666.9L547.2,641.3L505.1,664ZM650.1,718L692.2,695.3L657.9,669.8L615.8,692.5ZM684.4,743.6L726.5,720.9L692.2,695.3L650.1,718ZM795.1,772L837.2,749.4L802.9,723.8L760.8,746.5ZM905.8,800.5L947.9,777.9L913.6,752.3L871.5,774.9ZM940.1,826.1L982.2,803.4L947.9,777.9L905.8,800.5ZM1050.8,854.6L1093,831.9L1058.7,806.3L1016.5,829Z"/>
<path fill="#ff1a00" stroke="#ff1a00" stroke-width=".6" d="M849.8,433.6L891.9,410.7L857.6,385.1L815.5,407.9ZM960.5,462L1002.6,439.1L968.3,413.4L926.2,436.3ZM1105.5,516L1147.6,493.1L1113.3,467.5L1071.2,490.4ZM1216.2,544.4L1258.3,521.6L1224,495.9L1181.9,518.8ZM1361.2,598.5L1403.3,575.7L1369,550L1326.9,572.9Z"/>
<path fill="#ffd000" stroke="#ffd000" stroke-width=".6" d="M597.1,570.4L639.2,547.6L604.9,522L562.8,544.8ZM707.8,598.8L750,576L715.7,550.4L673.5,573.2ZM852.9,652.8L895,630.1L860.7,604.5L818.6,627.2ZM963.6,681.3L1005.7,658.5L971.4,632.9L929.3,655.7ZM997.9,706.9L1040,684.1L1005.7,658.5L963.6,681.3ZM1108.6,735.3L1150.7,712.6L1116.4,687L1074.3,709.7ZM1219.3,763.8L1261.4,741.1L1227.1,715.4L1185,738.2Z"/>
<path fill="#80ff37" stroke="#80ff37" stroke-width=".6" d="M463,686.7L505.1,664L470.8,638.5L428.7,661.1ZM573.7,715.1L615.8,692.5L581.5,666.9L539.4,689.6ZM608,740.7L650.1,718L615.8,692.5L573.7,715.1ZM718.7,769.1L760.8,746.5L726.5,720.9L684.4,743.6ZM829.4,797.6L871.5,774.9L837.2,749.4L795.1,772ZM863.7,823.2L905.8,800.5L871.5,774.9L829.4,797.6ZM974.4,851.7L1016.5,829L982.2,803.4L940.1,826.1Z"/>
<path fill="#59ff4f" stroke="#59ff4f" stroke-width=".6" d="M497.3,712.2L539.4,689.6L505.1,664L463,686.7ZM642.3,766.2L684.4,743.6L650.1,718L608,740.7ZM753,794.7L795.1,772L760.8,746.5L718.7,769.1ZM898,848.7L940.1,826.1L905.8,800.5L863.7,823.2ZM1008.7,877.2L1050.8,854.6L1016.5,829L974.4,851.7Z"/>
<path fill="#00ff64" stroke="#00ff64" stroke-width=".6" d="M531.6,737.7L573.7,715.1L539.4,689.6L497.3,712.2ZM565.9,763.3L608,740.7L573.7,715.1L531.6,737.7ZM676.6,791.8L718.7,769.1L684.4,743.6L642.3,766.2ZM787.3,820.2L829.4,797.6L795.1,772L753,794.7ZM821.6,845.8L863.7,823.2L829.4,797.6L787.3,820.2ZM932.3,874.3L974.4,851.7L940.1,826.1L898,848.7Z"/>
<path fill="#0f7" stroke="#0f7" stroke-width=".6" d="M600.2,788.8L642.3,766.2L608,740.7L565.9,763.3ZM710.9,817.3L753,794.7L718.7,769.1L676.6,791.8ZM745.2,842.8L787.3,820.2L753,794.7L710.9,817.3ZM855.9,871.4L898,848.7L863.7,823.2L821.6,845.8ZM966.6,899.9L1008.7,877.2L974.4,851.7L932.3,874.3Z"/>
<path fill="#00ff89" stroke="#00ff89" stroke-width=".6" d="M634.5,814.4L676.6,791.8L642.3,766.2L600.2,788.8ZM668.8,839.9L710.9,817.3L676.6,791.8L634.5,814.4ZM779.5,868.4L821.6,845.8L787.3,820.2L745.2,842.8ZM890.2,896.9L932.3,874.3L898,848.7L855.9,871.4ZM924.5,922.5L966.6,899.9L932.3,874.3L890.2,896.9Z"/>
<path fill="#00ff9b" stroke="#00ff9b" stroke-width=".6" d="M703.1,865.4L745.2,842.8L710.9,817.3L668.8,839.9ZM813.8,893.9L855.9,871.4L821.6,845.8L779.5,868.4ZM848.1,919.5L890.2,896.9L855.9,871.4L813.8,893.9Z"/>
<path fill="#00ffac" stroke="#00ffac" stroke-width=".6" d="M737.4,891L779.5,868.4L745.2,842.8L703.1,865.4ZM882.4,945L924.5,922.5L890.2,896.9L848.1,919.5Z"/>
<path fill="#00ffbd" stroke="#00ffbd" stroke-width=".6" d="M771.7,916.5L813.8,893.9L779.5,868.4L737.4,891ZM806,942.1L848.1,919.5L813.8,893.9L771.7,916.5Z"/>
<path fill="#00ffce" stroke="#00ffce" stroke-width=".6" d="M840.3,967.6L882.4,945L848.1,919.5L806,942.1Z"/>
<path fill="none" stroke="#000" stroke-opacity="0.9" stroke-width="2.7" stroke-linecap="square" d="M840.3,967.6L882.4,945L924.5,922.5L966.6,899.9L1008.7,877.2L1050.8,854.6L1093,831.9L1135.1,809.3L1177.2,786.5L1219.3,763.8L1261.4,741.1L1303.5,718.3L1345.6,695.5L1387.7,672.7L1429.8,649.9L1471.9,627M806,942.1L848.1,919.5L890.2,896.9L932.3,874.3L974.4,851.7L1016.5,829L1058.7,806.3L1100.8,783.7L1142.9,760.9L1185,738.2L1227.1,715.4L1269.2,692.7L1311.3,669.9L1353.4,647L1395.5,624.2L1437.6,601.3M771.7,916.5L813.8,893.9L855.9,871.4L898,848.7L940.1,826.1L982.2,803.4L1024.4,780.8L1066.5,758.1L1108.6,735.3L1150.7,712.6L1192.8,689.8L1234.9,667L1277,644.2L1319.1,621.4L1361.2,598.5L1403.3,575.7M737.4,891L779.5,868.4L821.6,845.8L863.7,823.2L905.8,800.5L947.9,777.9L990.1,755.2L1032.2,732.5L1074.3,709.7L1116.4,687L1158.5,664.2L1200.6,641.4L1242.7,618.6L1284.8,595.7L1326.9,572.9L1369,550M703.1,865.4L745.2,842.8L787.3,820.2L829.4,797.6L871.5,774.9L913.6,752.3L955.8,729.6L997.9,706.9L1040,684.1L1082.1,661.4L1124.2,638.6L1166.3,615.8L1208.4,592.9L1250.5,570.1L1292.6,547.2L1334.7,524.3M668.8,839.9L710.9,817.3L753,794.7L795.1,772L837.2,749.4L879.3,726.7L921.5,704L963.6,681.3L1005.7,658.5L1047.8,635.7L1089.9,612.9L1132,590.1L1174.1,567.3L1216.2,544.4L1258.3,521.6L1300.4,498.7M634.5,814.4L676.6,791.8L718.7,769.1L760.8,746.5L802.9,723.8L845,701.1L887.2,678.4L929.3,655.7L971.4,632.9L1013.5,610.1L1055.6,587.3L1097.7,564.5L1139.8,541.7L1181.9,518.8L1224,495.9L1266.1,473M600.2,788.8L642.3,766.2L684.4,743.6L726.5,720.9L768.6,698.2L810.8,675.5L852.9,652.8L895,630.1L937.1,607.3L979.2,584.5L1021.3,561.7L1063.4,538.9L1105.5,516L1147.6,493.1L1189.7,470.2L1231.8,447.3M565.9,763.3L608,740.7L650.1,718L692.2,695.3L734.3,672.7L776.4,649.9L818.6,627.2L860.7,604.5L902.8,581.7L944.9,558.9L987,536.1L1029.1,513.2L1071.2,490.4L1113.3,467.5L1155.4,444.6L1197.5,421.7M531.6,737.7L573.7,715.1L615.8,692.5L657.9,669.8L700,647.1L742.1,624.4L784.3,601.6L826.4,578.9L868.5,556.1L910.6,533.3L952.7,510.4L994.8,487.6L1036.9,464.7L1079,441.8L1121.1,418.9L1163.2,396M497.3,712.2L539.4,689.6L581.5,666.9L623.6,644.2L665.7,621.5L707.8,598.8L750,576L792.1,553.3L834.2,530.5L876.3,507.7L918.4,484.8L960.5,462L1002.6,439.1L1044.7,416.2L1086.8,393.3L1128.9,370.3M463,686.7L505.1,664L547.2,641.3L589.3,618.6L631.4,595.9L673.5,573.2L715.7,550.4L757.8,527.7L799.9,504.9L842,482L884.1,459.2L926.2,436.3L968.3,413.4L1010.4,390.5L1052.5,367.6L1094.6,344.7M428.7,661.1L470.8,638.5L512.9,615.8L555,593.1L597.1,570.4L639.2,547.6L681.4,524.8L723.5,502.1L765.6,479.3L807.7,456.4L849.8,433.6L891.9,410.7L934,387.8L976.1,364.9L1018.2,342L1060.3,319M394.4,635.6L436.5,612.9L478.6,590.2L520.7,567.5L562.8,544.8L604.9,522L647.1,499.3L689.2,476.5L731.3,453.6L773.4,430.8L815.5,407.9L857.6,385.1L899.7,362.2L941.8,339.2L983.9,316.3L1026,293.3M360.1,610L402.2,587.4L444.3,564.7L486.4,541.9L528.5,519.2L570.6,496.4L612.8,473.7L654.9,450.9L697,428L739.1,405.2L781.2,382.3L823.3,359.4L865.4,336.5L907.5,313.6L949.6,290.6L991.7,267.7M325.8,584.5L367.9,561.8L410,539.1L452.1,516.4L494.2,493.6L536.3,470.9L578.5,448.1L620.6,425.3L662.7,402.4L704.8,379.6L746.9,356.7L789,333.8L831.1,310.9L873.2,287.9L915.3,265L957.4,242M840.3,967.6L325.8,584.5M882.4,945L367.9,561.8M924.5,922.5L410,539.1M966.6,899.9L452.1,516.4M1008.7,877.2L494.2,493.6M1050.8,854.6L536.3,470.9M1093,831.9L578.5,448.1M1135.1,809.3L620.6,425.3M1177.2,786.5L662.7,402.4M1219.3,763.8L704.8,379.6M1261.4,741.1L746.9,356.7M1303.5,718.3L789,333.8M1345.6,695.5L831.1,310.9M1387.7,672.7L873.2,287.9M1429.8,649.9L915.3,265M1471.9,627L957.4,242"/>
<path fill="none" stroke="#000" stroke-width="5" stroke-linecap="round" d="M838,967.6h4.6M880.1,945h4.6M922.2,922.5h4.6M964.3,899.9h4.6M1006.4,877.2h4.6M1048.5,854.6h4.6M1090.7,831.9h4.6M1132.8,809.3h4.6M1174.9,786.5h4.6M1217,763.8h4.6M1259.1,741.1h4.6M1301.2,718.3h4.6M1343.3,695.5h4.6M1385.4,672.7h4.6M1427.5,649.9h4.6M1469.6,627h4.6M803.7,942.1h4.6M845.8,919.5h4.6M887.9,896.9h4.6M930,874.3h4.6M972.1,851.7h4.6M1014.2,829h4.6M1056.4,806.3h4.6M1098.5,783.7h4.6M1140.6,760.9h4.6M1182.7,738.2h4.6M1224.8,715.4h4.6M1266.9,692.7h4.6M1309,669.9h4.6M1351.1,647h4.6M1393.2,624.2h4.6M1435.3,601.3h4.6M769.4,916.5h4.6M811.5,893.9h4.6M853.6,871.4h4.6M895.7,848.7h4.6M937.8,826.1h4.6M979.9,803.4h4.6M1022.1,780.8h4.6M1064.2,758.1h4.6M1106.3,735.3h4.6M1148.4,712.6h4.6M1190.5,689.8h4.6M1232.6,667h4.6M1274.7,644.2h4.6M1316.8,621.4h4.6M1358.9,598.5h4.6M1401,575.7h4.6M735.1,891h4.6M777.2,868.4h4.6M819.3,845.8h4.6M861.4,823.2h4.6M903.5,800.5h4.6M945.6,777.9h4.6M987.8,755.2h4.6M1029.9,732.5h4.6M1072,709.7h4.6M1114.1,687h4.6M1156.2,664.2h4.6M1198.3,641.4h4.6M1240.4,618.6h4.6M1282.5,595.7h4.6M1324.6,572.9h4.6M1366.7,550h4.6M700.8,865.4h4.6M742.9,842.8h4.6M785,820.2h4.6M827.1,797.6h4.6M869.2,774.9h4.6M911.3,752.3h4.6M953.5,729.6h4.6M995.6,706.9h4.6M1037.7,684.1h4.6M1079.8,661.4h4.6M1121.9,638.6h4.6M1164,615.8h4.6M1206.1,592.9h4.6M1248.2,570.1h4.6M1290.3,547.2h4.6M1332.4,524.3h4.6M666.5,839.9h4.6M708.6,817.3h4.6M750.7,794.7h4.6M792.8,772h4.6M834.9,749.4h4.6M877,726.7h4.6M919.2,704h4.6M961.3,681.3h4.6M1003.4,658.5h4.6M1045.5,635.7h4.6M1087.6,612.9h4.6M1129.7,590.1h4.6M1171.8,567.3h4.6M1213.9,544.4h4.6M1256,521.6h4.6M1298.1,498.7h4.6M632.2,814.4h4.6M674.3,791.8h4.6M716.4,769.1h4.6M758.5,746.5h4.6M800.6,723.8h4.6M842.8,701.1h4.6M884.9,678.4h4.6M927,655.7h4.6M969.1,632.9h4.6M1011.2,610.1h4.6M1053.3,587.3h4.6M1095.4,564.5h4.6M1137.5,541.7h4.6M1179.6,518.8h4.6M1221.7,495.9h4.6M1263.8,473h4.6M597.9,788.8h4.6M640,766.2h4.6M682.1,743.6h4.6M724.2,720.9h4.6M766.3,698.2h4.6M808.5,675.5h4.6M850.6,652.8h4.6M892.7,630.1h4.6M934.8,607.3h4.6M976.9,584.5h4.6M1019,561.7h4.6M1061.1,538.9h4.6M1103.2,516h4.6M1145.3,493.1h4.6M1187.4,470.2h4.6M1229.5,447.3h4.6M563.6,763.3h4.6M605.7,740.7h4.6M647.8,718h4.6M689.9,695.3h4.6M732,672.7h4.6M774.1,649.9h4.6M816.3,627.2h4.6M858.4,604.5h4.6M900.5,581.7h4.6M942.6,558.9h4.6M984.7,536.1h4.6M1026.8,513.2h4.6M1068.9,490.4h4.6M1111,467.5h4.6M1153.1,444.6h4.6M1195.2,421.7h4.6M529.3,737.7h4.6M571.4,715.1h4.6M613.5,692.5h4.6M655.6,669.8h4.6M697.7,647.1h4.6M739.8,624.4h4.6M782,601.6h4.6M824.1,578.9h4.6M866.2,556.1h4.6M908.3,533.3h4.6M950.4,510.4h4.6M992.5,487.6h4.6M1034.6,464.7h4.6M1076.7,441.8h4.6M1118.8,418.9h4.6M1160.9,396h4.6M495,712.2h4.6M537.1,689.6h4.6M579.2,666.9h4.6M621.3,644.2h4.6M663.4,621.5h4.6M705.5,598.8h4.6M747.7,576h4.6M789.8,553.3h4.6M831.9,530.5h4.6M874,507.7h4.6M916.1,484.8h4.6M958.2,462h4.6M1000.3,439.1h4.6M1042.4,416.2h4.6M1084.5,393.3h4.6M1126.6,370.3h4.6M460.7,686.7h4.6M502.8,664h4.6M544.9,641.3h4.6M587,618.6h4.6M629.1,595.9h4.6M671.2,573.2h4.6M713.4,550.4h4.6M755.5,527.7h4.6M797.6,504.9h4.6M839.7,482h4.6M881.8,459.2h4.6M923.9,436.3h4.6M966,413.4h4.6M1008.1,390.5h4.6M1050.2,367.6h4.6M1092.3,344.7h4.6M426.4,661.1h4.6M468.5,638.5h4.6M510.6,615.8h4.6M552.7,593.1h4.6M594.8,570.4h4.6M637,547.6h4.6M679.1,524.8h4.6M721.2,502.1h4.6M763.3,479.3h4.6M805.4,456.4h4.6M847.5,433.6h4.6M889.6,410.7h4.6M931.7,387.8h4.6M973.8,364.9h4.6M1015.9,342h4.6M1058,319h4.6M392.1,635.6h4.6M434.2,612.9h4.6M476.3,590.2h4.6M518.4,567.5h4.6M560.5,544.8h4.6M602.6,522h4.6M644.8,499.3h4.6M686.9,476.5h4.6M729,453.6h4.6M771.1,430.8h4.6M813.2,407.9h4.6M855.3,385.1h4.6M897.4,362.2h4.6M939.5,339.2h4.6M981.6,316.3h4.6M1023.7,293.3h4.6M357.8,610h4.6M399.9,587.4h4.6M442,564.7h4.6M484.1,541.9h4.6M526.2,519.2h4.6M568.4,496.4h4.6M610.5,473.7h4.6M652.6,450.9h4.6M694.7,428h4.6M736.8,405.2h4.6M778.9,382.3h4.6M821,359.4h4.6M863.1,336.5h4.6M905.2,313.6h4.6M947.3,290.6h4.6M989.4,267.7h4.6M323.5,584.5h4.6M365.6,561.8h4.6M407.7,539.1h4.6M449.8,516.4h4.6M491.9,493.6h4.6M534,470.9h4.6M576.2,448.1h4.6M618.3,425.3h4.6M660.4,402.4h4.6M702.5,379.6h4.6M744.6,356.7h4.6M786.7,333.8h4.6M828.8,310.9h4.6M870.9,287.9h4.6M913,265h4.6M955.1,242h4.6"/>
</g>
<rect x="1779.7" y="1261.9" width="28.8" height="18.7" fill="#000094"/>
<rect x="1779.7" y="1243.7" width="28.8" height="18.7" fill="#0000a4"/>
<rect x="1779.7" y="1225.6" width="28.8" height="18.7" fill="#0000b4"/>
<rect x="1779.7" y="1207.5" width="28.8" height="18.7" fill="#0000c4"/>
<rect x="1779.7" y="1189.3" width="28.8" height="18.7" fill="#0000d4"/>
<rect x="1779.7" y="1171.2" width="28.8" height="18.7" fill="#0000e4"/>
<rect x="1779.7" y="1153.1" width="28.8" height="18.7" fill="#0000f4"/>
<rect x="1779.7" y="1134.9" width="28.8" height="18.7" fill="#00f"/>
<rect x="1779.7" y="1116.8" width="28.8" height="18.7" fill="#0007ff"/>
<rect x="1779.7" y="1098.7" width="28.8" height="18.7" fill="#001aff"/>
<rect x="1779.7" y="1080.5" width="28.8" height="18.7" fill="#002cff"/>
<rect x="1779.7" y="1062.4" width="28.8" height="18.7" fill="#003eff"/>
<rect x="1779.7" y="1044.3" width="28.8" height="18.7" fill="#004fff"/>
<rect x="1779.7" y="1026.1" width="28.8" height="18.7" fill="#005fff"/>
<rect x="1779.7" y="1008" width="28.8" height="18.7" fill="#0070ff"/>
<rect x="1779.7" y="989.9" width="28.8" height="18.7" fill="#0081ff"/>
<rect x="1779.7" y="971.7" width="28.8" height="18.7" fill="#0091ff"/>
<rect x="1779.7" y="953.6" width="28.8" height="18.7" fill="#00a1ff"/>
<rect x="1779.7" y="935.5" width="28.8" height="18.7" fill="#00b1ff"/>
<rect x="1779.7" y="917.3" width="28.8" height="18.7" fill="#00c1ff"/>
<rect x="1779.7" y="899.2" width="28.8" height="18.7" fill="#00d0ff"/>
<rect x="1779.7" y="881.1" width="28.8" height="18.7" fill="#00e0ff"/>
<rect x="1779.7" y="862.9" width="28.8" height="18.7" fill="#00f0ff"/>
<rect x="1779.7" y="844.8" width="28.8" height="18.7" fill="#0ff"/>
<rect x="1779.7" y="826.7" width="28.8" height="18.7" fill="#00ffef"/>
<rect x="1779.7" y="808.5" width="28.8" height="18.7" fill="#00ffdf"/>
<rect x="1779.7" y="790.4" width="28.8" height="18.7" fill="#00ffce"/>
<rect x="1779.7" y="772.3" width="28.8" height="18.7" fill="#00ffbd"/>
<rect x="1779.7" y="754.1" width="28.8" height="18.7" fill="#00ffac"/>
<rect x="1779.7" y="736" width="28.8" height="18.7" fill="#00ff9b"/>
<rect x="1779.7" y="717.9" width="28.8" height="18.7" fill="#00ff89"/>
<rect x="1779.7" y="699.8" width="28.8" height="18.7" fill="#0f7"/>
<rect x="1779.7" y="681.6" width="28.8" height="18.7" fill="#00ff64"/>
<rect x="1779.7" y="663.5" width="28.8" height="18.7" fill="#59ff4f"/>
<rect x="1779.7" y="645.4" width="28.8" height="18.7" fill="#80ff37"/>
<rect x="1779.7" y="627.2" width="28.8" height="18.7" fill="#9fff13"/>
<rect x="1779.7" y="609.1" width="28.8" height="18.7" fill="#b9ff00"/>
<rect x="1779.7" y="591" width="28.8" height="18.7" fill="#d2ff00"/>
<rect x="1779.7" y="572.8" width="28.8" height="18.7" fill="#e9ff00"/>
<rect x="1779.7" y="554.7" width="28.8" height="18.7" fill="#ff0"/>
<rect x="1779.7" y="536.6" width="28.8" height="18.7" fill="#fff000"/>
<rect x="1779.7" y="518.4" width="28.8" height="18.7" fill="#ffe000"/>
<rect x="1779.7" y="500.3" width="28.8" height="18.7" fill="#ffd000"/>
<rect x="1779.7" y="482.2" width="28.8" height="18.7" fill="#ffc100"/>
<rect x="1779.7" y="464" width="28.8" height="18.7" fill="#ffb100"/>
<rect x="1779.7" y="445.9" width="28.8" height="18.7" fill="#ffa100"/>
<rect x="1779.7" y="427.8" width="28.8" height="18.7" fill="#ff9100"/>
<rect x="1779.7" y="409.6" width="28.8" height="18.7" fill="#ff8100"/>
<rect x="1779.7" y="391.5" width="28.8" height="18.7" fill="#ff7000"/>
<rect x="1779.7" y="373.4" width="28.8" height="18.7" fill="#ff5f00"/>
<rect x="1779.7" y="355.2" width="28.8" height="18.7" fill="#ff4f00"/>
<rect x="1779.7" y="337.1" width="28.8" height="18.7" fill="#ff3e00"/>
<rect x="1779.7" y="319" width="28.8" height="18.7" fill="#ff2c00"/>
<rect x="1779.7" y="300.8" width="28.8" height="18.7" fill="#ff1a00"/>
<rect x="1779.7" y="282.7" width="28.8" height="18.7" fill="#ff0700"/>
<rect x="1779.7" y="264.6" width="28.8" height="18.7" fill="#f00"/>
<rect x="1779.7" y="246.4" width="28.8" height="18.7" fill="#f00"/>
<rect x="1779.7" y="228.3" width="28.8" height="18.7" fill="#f00"/>
<rect x="1779.7" y="210.2" width="28.8" height="18.7" fill="#f20000"/>
<rect x="1779.7" y="192" width="28.8" height="18.7" fill="#e00000"/>
<rect x="1779.7" y="173.9" width="28.8" height="18.7" fill="#cd0000"/>
<rect x="1779.7" y="155.8" width="28.8" height="18.7" fill="#b00"/>
<rect x="1779.7" y="137.6" width="28.8" height="18.7" fill="#a90000"/>
<rect x="1779.7" y="119.5" width="28.8" height="18.7" fill="#960000"/>
<rect x="1779.7" y="119.8" width="28.8" height="1160.5" fill="none" stroke="#0a0a0a" stroke-width="3.6"/>
<path d="M1779.7,148.2h11.5M1808.5,148.2h-11.5M1779.7,288.2h11.5M1808.5,288.2h-11.5M1779.7,427.8h11.5M1808.5,427.8h-11.5M1779.7,571.1h11.5M1808.5,571.1h-11.5M1779.7,708.3h11.5M1808.5,708.3h-11.5M1779.7,846.9h11.5M1808.5,846.9h-11.5M1779.7,986.4h11.5M1808.5,986.4h-11.5M1779.7,1126.4h11.5M1808.5,1126.4h-11.5M1779.7,1269.8h11.5M1808.5,1269.8h-11.5" stroke="#000" stroke-width="3.2" fill="none"/>
</g>
<g filter="url(#soft)">
<text class="t" transform="translate(1823.8,164.5) scale(0.92,1)">160</text>
<text class="t" transform="translate(1823.8,304.5) scale(0.92,1)">140</text>
<text class="t" transform="translate(1823.8,444.1) scale(0.92,1)">120</text>
<text class="t" transform="translate(1823.8,587.4) scale(0.92,1)">100</text>
<text class="t" transform="translate(1823.9,724.6) scale(0.92,1)">80</text>
<text class="t" transform="translate(1823.7,863.2) scale(0.92,1)">60</text>
<text class="t" transform="translate(1824.8,1002.7) scale(0.92,1)">40</text>
<text class="t" transform="translate(1823.7,1142.7) scale(0.92,1)">20</text>
<text class="t" transform="translate(1824.2,1286.1) scale(0.92,1)">0</text>
<text class="t" transform="translate(151.4,327.2) scale(0.92,1)">200</text>
<text class="t" transform="translate(151.4,455.3) scale(0.92,1)">150</text>
<text class="t" transform="translate(151.4,583.5) scale(0.92,1)">100</text>
<text class="t" transform="translate(176.9,711.6) scale(0.92,1)">50</text>
<text class="t" transform="translate(202.7,839.8) scale(0.92,1)">0</text>
<text class="t" transform="translate(161.8,967.9) scale(0.92,1)">-50</text>
<text class="t" transform="translate(174.4,1024.4) scale(0.92,1)">30</text>
<text class="t" transform="translate(347.6,1129.1) scale(0.92,1)">20</text>
<text class="t" transform="translate(519.5,1232.2) scale(0.92,1)">10</text>
<text class="t" transform="translate(717.3,1336.3) scale(0.92,1)">0</text>
<text class="t" transform="translate(805.9,1343.2) scale(0.92,1)">1</text>
<text class="t" transform="translate(964.7,1304.2) scale(0.92,1)">2</text>
<text class="t" transform="translate(1120.6,1264.4) scale(0.92,1)">3</text>
<text class="t" transform="translate(1278,1221.8) scale(0.92,1)">4</text>
<text class="t" transform="translate(1437.4,1182.8) scale(0.92,1)">5</text>
<text class="t" transform="translate(1598.3,1143) scale(0.92,1)">6</text>
<text class="b" transform="translate(360.5,82) scale(0.974,1)">Mass</text>
<text class="b" transform="translate(541.6,82) scale(1.018,1)">Loss</text>
<text class="b" transform="translate(711.8,82) scale(0.988,1)">Vs.</text>
<text class="b" transform="translate(830.7,82) scale(1.011,1)">Vel.</text>
<text class="b" transform="translate(964.8,82) scale(0.965,1)">and</text>
<text class="b" transform="translate(1092.8,82) scale(0.968,1)">Sand</text>
<text class="b" transform="translate(1268.7,82) scale(0.984,1)">Conc.</text>
<text class="b" transform="translate(21.2,1365) scale(0.973,1)">Sand</text>
<text class="b" transform="translate(195.6,1365) scale(1.001,1)">conc.</text>
<text class="b" transform="translate(379.6,1365) scale(0.995,1)">(%)</text>
<text class="b" transform="translate(1127.1,1389) scale(0.991,1)">vel</text>
<text class="b" transform="translate(1231.3,1389) scale(0.997,1)">(m/s)</text>
<g transform="translate(114.7,1069) rotate(-90)"><text class="b" x="0" y="0">Mass Loss x 10</text><text class="u" x="492" y="-33">-</text><text class="u" x="526" y="-33">6</text><text class="b" x="593" y="0">(g/mm</text><text class="u" x="787" y="-33">2</text><text class="b" x="814" y="0">)</text></g>
</g>
<path d="M1585.3,524.8L1472,580" stroke="#000" stroke-width="4.2" fill="none"/>
<path d="M1446.9,594L1467.3,566.1L1482.4,594Z" fill="#000"/>
<path d="M1602.9,626.3L1470.6,697.3" stroke="#000" stroke-width="4.2" fill="none"/>
<path d="M1442.6,713.5L1463,684L1477.7,713.5Z" fill="#000"/>
<path d="M1585.3,730.7L1486.7,779.1" stroke="#000" stroke-width="4.2" fill="none"/>
<path d="M1459.8,793.8L1479.2,766.2L1494.2,793.8Z" fill="#000"/>
<text class="s" x="1605.7" y="554.2" font-size="62">50 h</text>
<text class="s" x="1622.4" y="665.1" font-size="62">35 h</text>
<text class="s" x="1625.2" y="768.4" font-size="62">20 h</text>
<text class="s" font-size="88" transform="translate(914.7,1548) scale(0.873,0.974)">(</text>
<text class="s" font-size="88" font-weight="bold" transform="translate(941.5,1548.6) scale(0.955,1.04)">a</text>
<text class="s" font-size="88" transform="translate(983.7,1548) scale(0.887,0.974)">)</text>
</svg></body></html>
